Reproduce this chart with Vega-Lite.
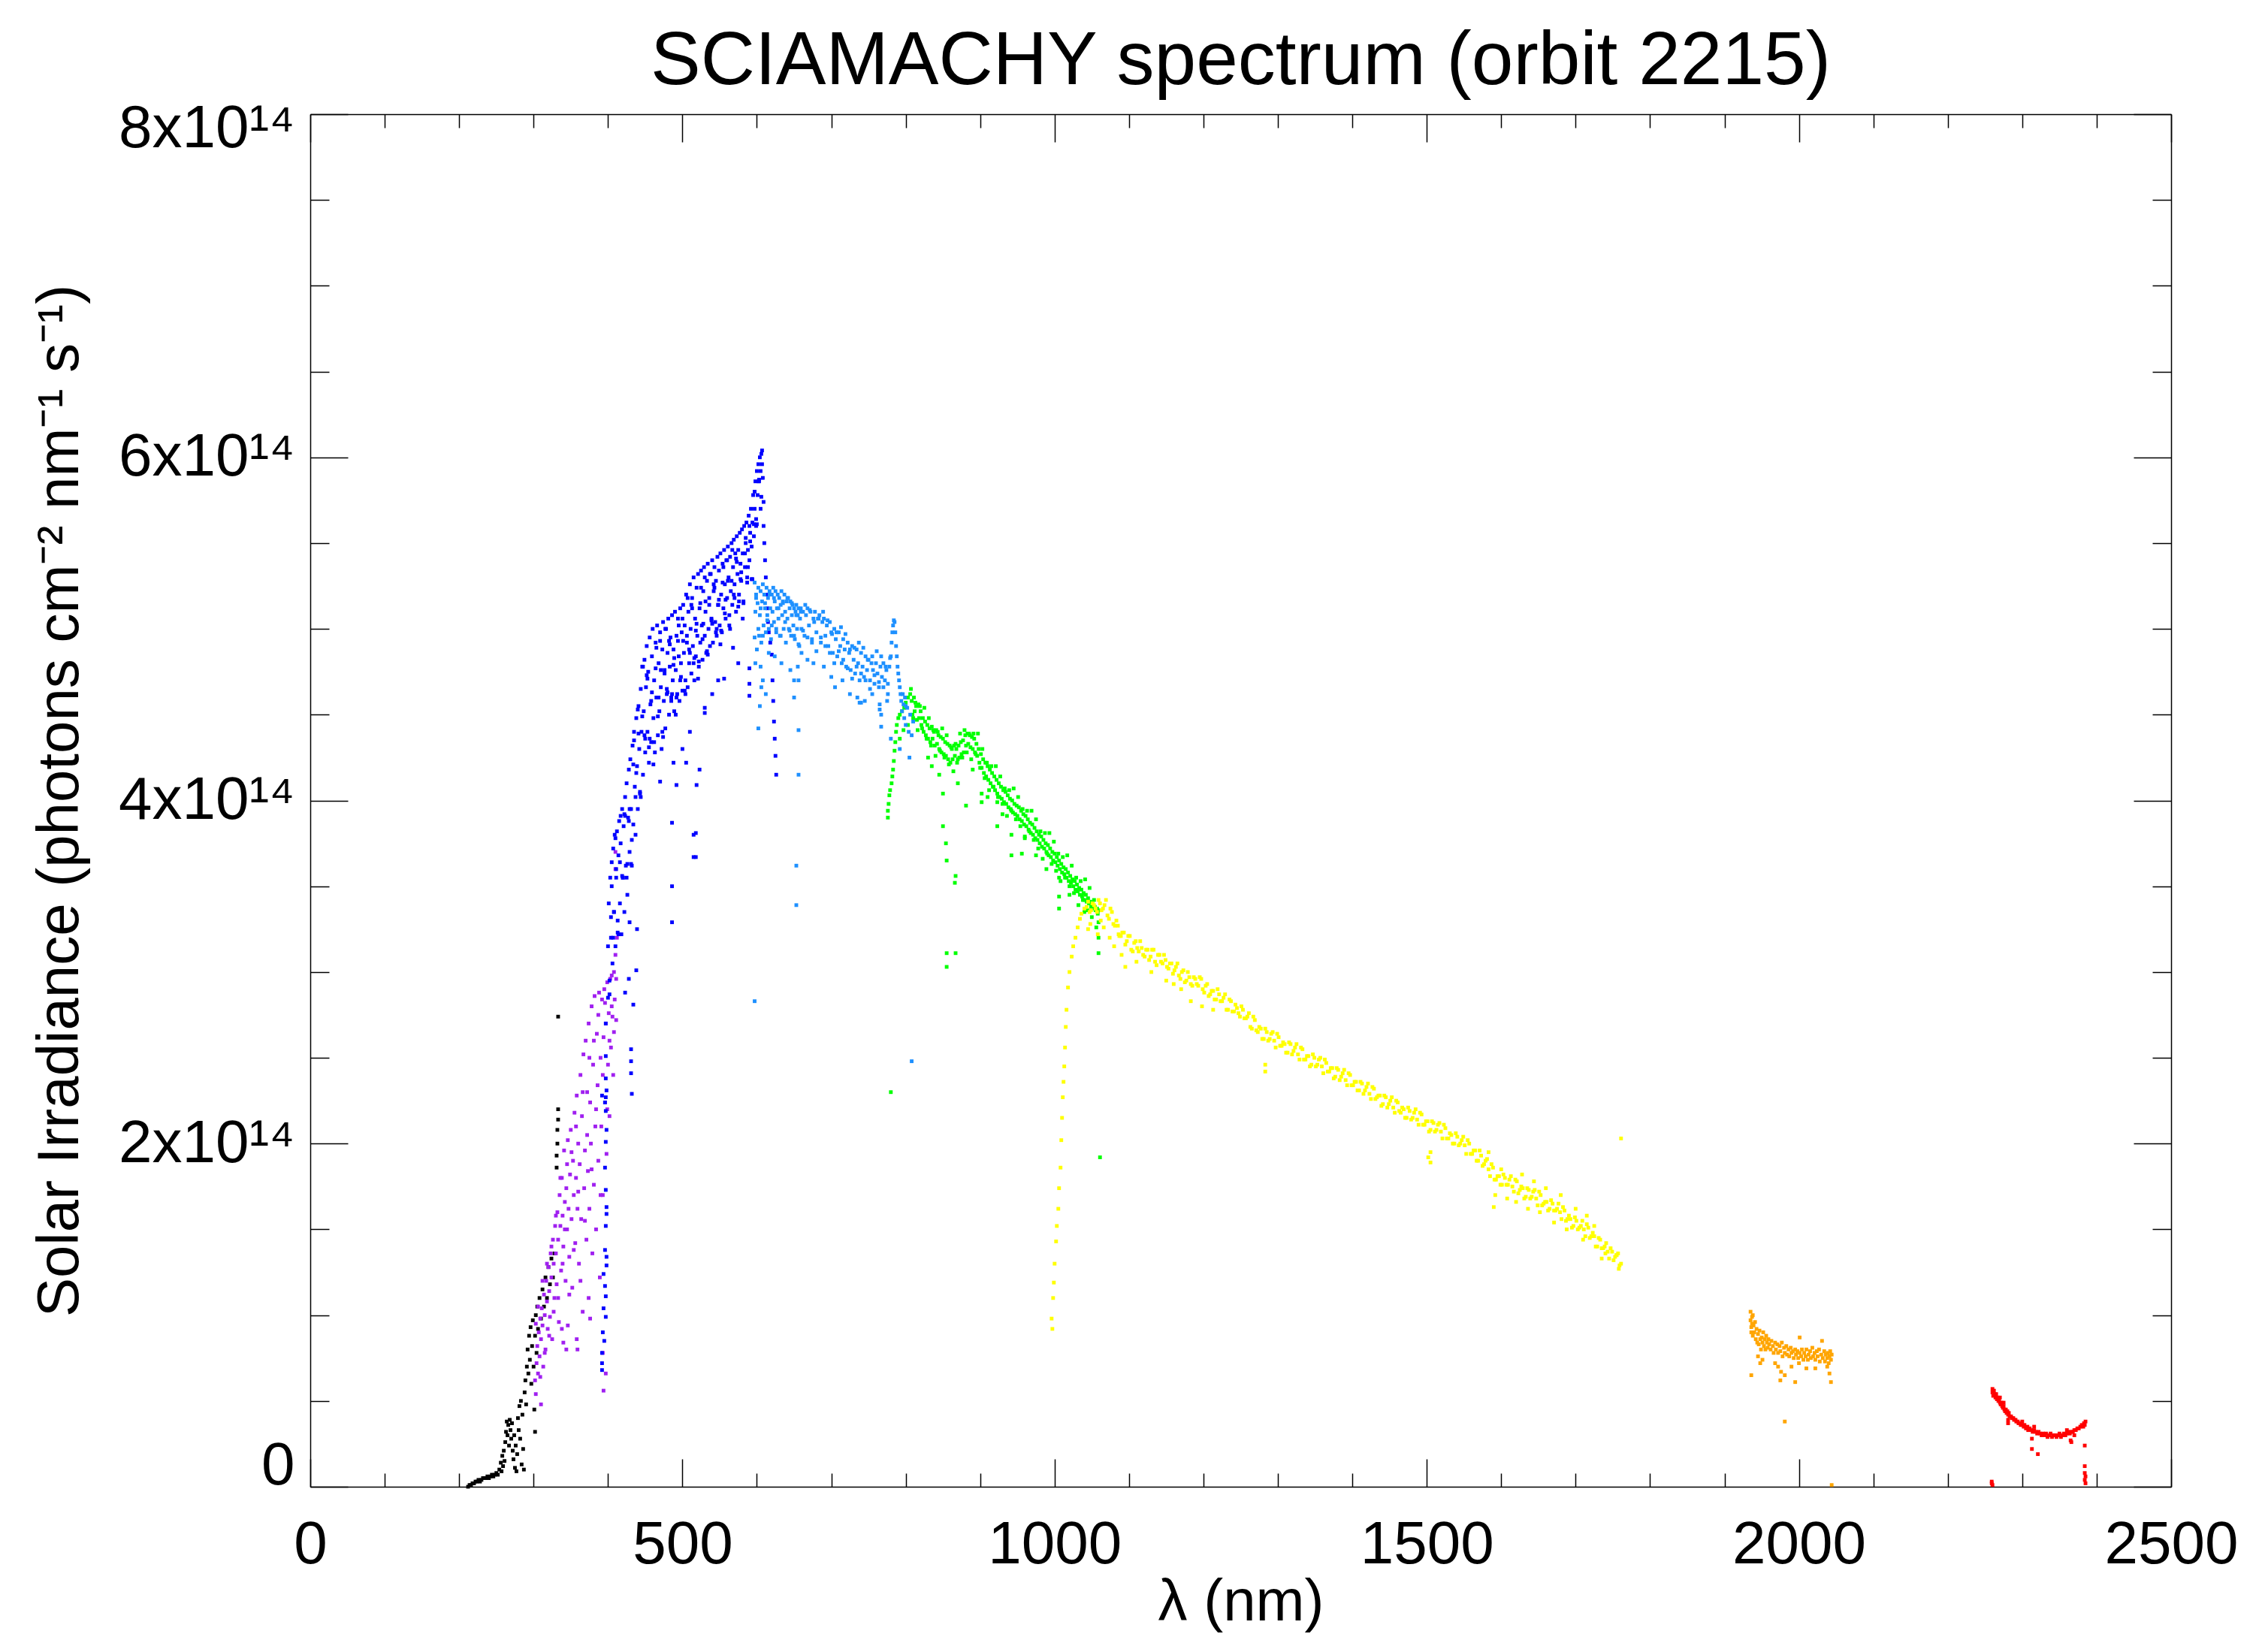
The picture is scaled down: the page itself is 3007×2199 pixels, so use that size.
{
"$schema": "https://vega.github.io/schema/vega-lite/v6.json",
"width": 2477, "height": 1827,
"autosize": {"type": "none"},
"padding": {"left": 413, "top": 152, "right": 117, "bottom": 220},
"background": "white",
"config": {"view": {"stroke": null}, "font": "Liberation Sans",
 "axis": {"labelFont": "Liberation Sans", "titleFont": "Liberation Sans", "labelColor": "black", "titleColor": "black", "domainColor": "black", "tickColor": "black", "domainWidth": 1.5, "tickWidth": 1.5, "grid": false, "titleFontWeight": "normal", "labelLimit": 600}},
"title": {"text": "SCIAMACHY spectrum (orbit 2215)", "fontSize": 100, "font": "Liberation Sans", "fontWeight": "normal", "color": "black", "anchor": "middle", "baseline": "alphabetic", "offset": -81},
"datasets": {"spec": [
{"w":212,"f":0,"c":"1"},{"w":214,"f":0.01e14,"c":"1"},{"w":216,"f":0.01e14,"c":"1"},{"w":218,"f":0.02e14,"c":"1"},{"w":220,"f":0.02e14,"c":"1"},{"w":222,"f":0.03e14,"c":"1"},{"w":224,"f":0.03e14,"c":"1"},{"w":226,"f":0.04e14,"c":"1"},{"w":228,"f":0.03e14,"c":"1"},{"w":230,"f":0.04e14,"c":"1"},{"w":232,"f":0.05e14,"c":"1"},{"w":234,"f":0.05e14,"c":"1"},{"w":236,"f":0.05e14,"c":"1"},{"w":238,"f":0.06e14,"c":"1"},{"w":240,"f":0.05e14,"c":"1"},{"w":242,"f":0.06e14,"c":"1"},{"w":244,"f":0.07e14,"c":"1"},{"w":246,"f":0.06e14,"c":"1"},{"w":248,"f":0.07e14,"c":"1"},{"w":250,"f":0.08e14,"c":"1"},{"w":252,"f":0.07e14,"c":"1"},{"w":254,"f":0.10e14,"c":"1"},{"w":256,"f":0.14e14,"c":"1"},{"w":257,"f":0.09e14,"c":"1"},{"w":258,"f":0.18e14,"c":"1"},{"w":259,"f":0.12e14,"c":"1"},{"w":260,"f":0.21e14,"c":"1"},{"w":261,"f":0.15e14,"c":"1"},{"w":262,"f":0.26e14,"c":"1"},{"w":263,"f":0.32e14,"c":"1"},{"w":264,"f":0.38e14,"c":"1"},{"w":265,"f":0.30e14,"c":"1"},{"w":266,"f":0.36e14,"c":"1"},{"w":267,"f":0.24e14,"c":"1"},{"w":268,"f":0.39e14,"c":"1"},{"w":269,"f":0.33e14,"c":"1"},{"w":270,"f":0.28e14,"c":"1"},{"w":271,"f":0.37e14,"c":"1"},{"w":272,"f":0.21e14,"c":"1"},{"w":273,"f":0.16e14,"c":"1"},{"w":274,"f":0.30e14,"c":"1"},{"w":275,"f":0.11e14,"c":"1"},{"w":276,"f":0.24e14,"c":"1"},{"w":277,"f":0.09e14,"c":"1"},{"w":278,"f":0.19e14,"c":"1"},{"w":279,"f":0.40e14,"c":"1"},{"w":280,"f":0.33e14,"c":"1"},{"w":281,"f":0.47e14,"c":"1"},{"w":282,"f":0.28e14,"c":"1"},{"w":283,"f":0.50e14,"c":"1"},{"w":284,"f":0.13e14,"c":"1"},{"w":285,"f":0.42e14,"c":"1"},{"w":286,"f":0.22e14,"c":"1"},{"w":287,"f":0.10e14,"c":"1"},{"w":288,"f":0.55e14,"c":"1"},{"w":289,"f":0.62e14,"c":"1"},{"w":290,"f":0.48e14,"c":"1"},{"w":291,"f":0.70e14,"c":"1"},{"w":292,"f":0.80e14,"c":"1"},{"w":293,"f":0.66e14,"c":"1"},{"w":294,"f":0.88e14,"c":"1"},{"w":295,"f":0.74e14,"c":"1"},{"w":296,"f":0.93e14,"c":"1"},{"w":297,"f":0.60e14,"c":"1"},{"w":298,"f":0.82e14,"c":"1"},{"w":299,"f":0.97e14,"c":"1"},{"w":300,"f":0.70e14,"c":"1"},{"w":301,"f":0.45e14,"c":"1"},{"w":302,"f":0.32e14,"c":"1"},{"w":302,"f":0.88e14,"c":"1"},{"w":303,"f":1.00e14,"c":"1"},{"w":304,"f":0.78e14,"c":"1"},{"w":305,"f":1.05e14,"c":"1"},{"w":306,"f":0.92e14,"c":"1"},{"w":308,"f":1.10e14,"c":"1"},{"w":310,"f":0.98e14,"c":"1"},{"w":312,"f":1.15e14,"c":"1"},{"w":314,"f":1.05e14,"c":"1"},{"w":316,"f":1.22e14,"c":"1"},{"w":318,"f":1.10e14,"c":"1"},{"w":320,"f":1.28e14,"c":"1"},{"w":322,"f":1.18e14,"c":"1"},{"w":324,"f":1.33e14,"c":"1"},{"w":326,"f":1.22e14,"c":"1"},{"w":328,"f":1.36e14,"c":"1"},{"w":331,"f":1.86e14,"c":"1"},{"w":331,"f":1.93e14,"c":"1"},{"w":332,"f":2.00e14,"c":"1"},{"w":332,"f":2.08e14,"c":"1"},{"w":333,"f":2.14e14,"c":"1"},{"w":333,"f":2.20e14,"c":"1"},{"w":333,"f":2.74e14,"c":"1"},
{"w":302,"f":0.62e14,"c":"2"},{"w":303,"f":0.54e14,"c":"2"},{"w":304,"f":0.72e14,"c":"2"},{"w":305,"f":0.82e14,"c":"2"},{"w":306,"f":0.66e14,"c":"2"},{"w":307,"f":0.90e14,"c":"2"},{"w":308,"f":0.76e14,"c":"2"},{"w":309,"f":0.98e14,"c":"2"},{"w":310,"f":0.48e14,"c":"2"},{"w":310,"f":0.86e14,"c":"2"},{"w":311,"f":1.04e14,"c":"2"},{"w":312,"f":0.94e14,"c":"2"},{"w":313,"f":0.70e14,"c":"2"},{"w":314,"f":1.12e14,"c":"2"},{"w":315,"f":1.00e14,"c":"2"},{"w":316,"f":0.80e14,"c":"2"},{"w":317,"f":1.20e14,"c":"2"},{"w":318,"f":1.08e14,"c":"2"},{"w":319,"f":0.92e14,"c":"2"},{"w":320,"f":1.28e14,"c":"2"},{"w":321,"f":1.14e14,"c":"2"},{"w":322,"f":0.99e14,"c":"2"},{"w":323,"f":1.36e14,"c":"2"},{"w":324,"f":1.22e14,"c":"2"},{"w":325,"f":0.86e14,"c":"2"},{"w":326,"f":1.44e14,"c":"2"},{"w":327,"f":1.30e14,"c":"2"},{"w":328,"f":1.10e14,"c":"2"},{"w":329,"f":1.52e14,"c":"2"},{"w":330,"f":1.36e14,"c":"2"},{"w":331,"f":1.18e14,"c":"2"},{"w":332,"f":1.60e14,"c":"2"},{"w":333,"f":1.44e14,"c":"2"},{"w":334,"f":0.96e14,"c":"2"},{"w":335,"f":1.70e14,"c":"2"},{"w":336,"f":1.52e14,"c":"2"},{"w":337,"f":1.26e14,"c":"2"},{"w":338,"f":1.80e14,"c":"2"},{"w":338,"f":0.92e14,"c":"2"},{"w":339,"f":1.58e14,"c":"2"},{"w":340,"f":0.84e14,"c":"2"},{"w":340,"f":1.40e14,"c":"2"},{"w":341,"f":1.96e14,"c":"2"},{"w":342,"f":1.66e14,"c":"2"},{"w":343,"f":1.20e14,"c":"2"},{"w":344,"f":1.74e14,"c":"2"},{"w":344,"f":0.80e14,"c":"2"},{"w":345,"f":1.50e14,"c":"2"},{"w":346,"f":0.94e14,"c":"2"},{"w":346,"f":2.02e14,"c":"2"},{"w":347,"f":1.62e14,"c":"2"},{"w":348,"f":1.34e14,"c":"2"},{"w":349,"f":1.82e14,"c":"2"},{"w":350,"f":2.08e14,"c":"2"},{"w":351,"f":1.56e14,"c":"2"},{"w":352,"f":1.16e14,"c":"2"},{"w":353,"f":1.90e14,"c":"2"},{"w":354,"f":1.70e14,"c":"2"},{"w":355,"f":2.18e14,"c":"2"},{"w":356,"f":1.42e14,"c":"2"},{"w":357,"f":1.80e14,"c":"2"},{"w":358,"f":0.86e14,"c":"2"},{"w":358,"f":2.28e14,"c":"2"},{"w":359,"f":1.62e14,"c":"2"},{"w":359,"f":0.80e14,"c":"2"},{"w":360,"f":2.00e14,"c":"2"},{"w":361,"f":1.30e14,"c":"2"},{"w":362,"f":1.88e14,"c":"2"},{"w":363,"f":2.40e14,"c":"2"},{"w":364,"f":1.56e14,"c":"2"},{"w":365,"f":2.16e14,"c":"2"},{"w":366,"f":1.02e14,"c":"2"},{"w":367,"f":2.52e14,"c":"2"},{"w":368,"f":1.74e14,"c":"2"},{"w":369,"f":1.96e14,"c":"2"},{"w":370,"f":2.60e14,"c":"2"},{"w":371,"f":1.44e14,"c":"2"},{"w":372,"f":2.30e14,"c":"2"},{"w":373,"f":1.84e14,"c":"2"},{"w":374,"f":1.10e14,"c":"2"},{"w":374,"f":2.70e14,"c":"2"},{"w":375,"f":1.62e14,"c":"2"},{"w":376,"f":2.24e14,"c":"2"},{"w":376,"f":0.98e14,"c":"2"},{"w":377,"f":2.00e14,"c":"2"},{"w":378,"f":2.80e14,"c":"2"},{"w":379,"f":1.36e14,"c":"2"},{"w":380,"f":2.46e14,"c":"2"},{"w":381,"f":1.76e14,"c":"2"},{"w":382,"f":2.86e14,"c":"2"},{"w":383,"f":2.10e14,"c":"2"},{"w":384,"f":1.50e14,"c":"2"},{"w":385,"f":2.64e14,"c":"2"},{"w":386,"f":2.34e14,"c":"2"},{"w":387,"f":1.90e14,"c":"2"},{"w":388,"f":2.88e14,"c":"2"},{"w":389,"f":1.22e14,"c":"2"},{"w":390,"f":2.50e14,"c":"2"},{"w":391,"f":2.10e14,"c":"2"},{"w":392,"f":2.84e14,"c":"2"},{"w":393,"f":0.78e14,"c":"2"},{"w":393,"f":1.70e14,"c":"2"},{"w":394,"f":2.62e14,"c":"2"},{"w":394,"f":0.56e14,"c":"2"},{"w":395,"f":2.90e14,"c":"2"},{"w":396,"f":2.24e14,"c":"2"},{"w":397,"f":0.66e14,"c":"2"},{"w":397,"f":2.70e14,"c":"2"},{"w":398,"f":1.94e14,"c":"2"},{"w":399,"f":2.94e14,"c":"2"},{"w":400,"f":2.46e14,"c":"2"},{"w":401,"f":2.76e14,"c":"2"},{"w":402,"f":2.16e14,"c":"2"},{"w":403,"f":2.96e14,"c":"2"},{"w":404,"f":2.56e14,"c":"2"},{"w":405,"f":2.98e14,"c":"2"},{"w":406,"f":2.74e14,"c":"2"},{"w":407,"f":2.40e14,"c":"2"},{"w":408,"f":3.00e14,"c":"2"},{"w":409,"f":2.84e14,"c":"2"},{"w":410,"f":3.10e14,"c":"2"},{"w":410,"f":3.60e14,"c":"2"},{"w":410,"f":3.70e14,"c":"2"},{"w":411,"f":2.96e14,"c":"2"},{"w":412,"f":3.20e14,"c":"2"},
{"w":303,"f":0.95e14,"c":"2"},{"w":306,"f":1.05e14,"c":"2"},{"w":309,"f":0.64e14,"c":"2"},{"w":312,"f":1.20e14,"c":"2"},{"w":315,"f":0.78e14,"c":"2"},{"w":318,"f":1.30e14,"c":"2"},{"w":321,"f":0.88e14,"c":"2"},{"w":324,"f":1.40e14,"c":"2"},{"w":327,"f":1.02e14,"c":"2"},{"w":330,"f":1.58e14,"c":"2"},{"w":333,"f":1.10e14,"c":"2"},{"w":336,"f":1.80e14,"c":"2"},{"w":339,"f":1.30e14,"c":"2"},{"w":342,"f":1.50e14,"c":"2"},{"w":345,"f":1.88e14,"c":"2"},{"w":348,"f":1.12e14,"c":"2"},{"w":351,"f":1.95e14,"c":"2"},{"w":354,"f":1.38e14,"c":"2"},{"w":357,"f":2.10e14,"c":"2"},{"w":360,"f":1.72e14,"c":"2"},{"w":363,"f":1.20e14,"c":"2"},{"w":366,"f":2.30e14,"c":"2"},{"w":369,"f":1.55e14,"c":"2"},{"w":372,"f":2.05e14,"c":"2"},{"w":375,"f":2.50e14,"c":"2"},{"w":378,"f":1.85e14,"c":"2"},{"w":381,"f":2.60e14,"c":"2"},{"w":384,"f":2.20e14,"c":"2"},{"w":387,"f":2.75e14,"c":"2"},{"w":390,"f":1.70e14,"c":"2"},{"w":393,"f":2.40e14,"c":"2"},{"w":396,"f":2.82e14,"c":"2"},{"w":399,"f":2.20e14,"c":"2"},{"w":402,"f":2.60e14,"c":"2"},{"w":405,"f":2.80e14,"c":"2"},{"w":408,"f":2.65e14,"c":"2"},{"w":411,"f":2.72e14,"c":"2"},
{"w":397,"f":2.51e14,"c":"3"},{"w":397,"f":2.38e14,"c":"3"},{"w":398,"f":2.31e14,"c":"3"},{"w":397,"f":2.27e14,"c":"3"},{"w":396,"f":2.24e14,"c":"3"},{"w":397,"f":2.19e14,"c":"3"},{"w":398,"f":2.08e14,"c":"3"},{"w":397,"f":2.01e14,"c":"3"},{"w":396,"f":1.86e14,"c":"3"},{"w":397,"f":1.73e14,"c":"3"},{"w":398,"f":1.63e14,"c":"3"},{"w":398,"f":1.59e14,"c":"3"},{"w":397,"f":1.52e14,"c":"3"},{"w":396,"f":1.38e14,"c":"3"},{"w":398,"f":1.34e14,"c":"3"},{"w":398,"f":1.29e14,"c":"3"},{"w":394,"f":1.24e14,"c":"3"},{"w":396,"f":1.17e14,"c":"3"},{"w":397,"f":1.11e14,"c":"3"},{"w":394,"f":1.04e14,"c":"3"},{"w":397,"f":0.99e14,"c":"3"},{"w":393,"f":0.90e14,"c":"3"},{"w":395,"f":0.85e14,"c":"3"},{"w":392,"f":0.78e14,"c":"3"},{"w":392,"f":0.72e14,"c":"3"},{"w":392,"f":0.68e14,"c":"3"},{"w":392,"f":2.28e14,"c":"3"},{"w":397,"f":2.70e14,"c":"3"},
{"w":431,"f":2.55e14,"c":"3"},{"w":431,"f":2.48e14,"c":"3"},{"w":431,"f":2.41e14,"c":"3"},{"w":432,"f":2.29e14,"c":"3"},{"w":434,"f":2.81e14,"c":"3"},{"w":429,"f":3.29e14,"c":"3"},{"w":439,"f":3.25e14,"c":"3"},{"w":438,"f":3.01e14,"c":"3"},{"w":423,"f":2.88e14,"c":"3"},{"w":428,"f":2.96e14,"c":"3"},{"w":486,"f":3.87e14,"c":"3"},{"w":486,"f":3.50e14,"c":"3"},{"w":486,"f":3.29e14,"c":"3"},{"w":515,"f":3.80e14,"c":"3"},{"w":515,"f":3.67e14,"c":"3"},{"w":518,"f":3.81e14,"c":"3"},{"w":518,"f":3.67e14,"c":"3"},{"w":492,"f":4.09e14,"c":"3"},{"w":488,"f":4.22e14,"c":"3"},{"w":470,"f":4.11e14,"c":"3"},{"w":523,"f":4.18e14,"c":"3"},{"w":519,"f":4.09e14,"c":"3"},{"w":530,"f":4.54e14,"c":"3"},{"w":530,"f":4.51e14,"c":"3"},{"w":556,"f":4.71e14,"c":"3"},{"w":568,"f":4.89e14,"c":"3"},{"w":590,"f":4.77e14,"c":"3"},{"w":590,"f":4.68e14,"c":"3"},{"w":590,"f":4.61e14,"c":"3"},{"w":500,"f":4.30e14,"c":"3"},{"w":505,"f":4.22e14,"c":"3"},{"w":510,"f":4.40e14,"c":"3"},{"w":540,"f":4.62e14,"c":"3"},{"w":548,"f":4.70e14,"c":"3"},{"w":575,"f":4.80e14,"c":"3"},
{"w":400,"f":2.85e14,"c":"3"},{"w":400,"f":3.15e14,"c":"3"},{"w":401,"f":3.40e14,"c":"3"},{"w":402,"f":2.95e14,"c":"3"},{"w":403,"f":3.55e14,"c":"3"},{"w":404,"f":3.20e14,"c":"3"},{"w":405,"f":3.64e14,"c":"3"},{"w":406,"f":3.05e14,"c":"3"},{"w":407,"f":3.72e14,"c":"3"},{"w":408,"f":3.35e14,"c":"3"},{"w":409,"f":3.80e14,"c":"3"},{"w":410,"f":3.15e14,"c":"3"},{"w":411,"f":3.55e14,"c":"3"},{"w":412,"f":3.82e14,"c":"3"},{"w":413,"f":3.30e14,"c":"3"},{"w":414,"f":3.68e14,"c":"3"},{"w":415,"f":3.88e14,"c":"3"},{"w":416,"f":3.40e14,"c":"3"},{"w":417,"f":3.75e14,"c":"3"},{"w":418,"f":3.22e14,"c":"3"},{"w":419,"f":3.95e14,"c":"3"},{"w":420,"f":3.55e14,"c":"3"},{"w":421,"f":3.85e14,"c":"3"},{"w":422,"f":3.35e14,"c":"3"},{"w":423,"f":4.02e14,"c":"3"},{"w":424,"f":3.62e14,"c":"3"},{"w":425,"f":4.10e14,"c":"3"},{"w":426,"f":3.45e14,"c":"3"},{"w":427,"f":3.90e14,"c":"3"},{"w":428,"f":4.18e14,"c":"3"},{"w":429,"f":3.70e14,"c":"3"},{"w":430,"f":4.24e14,"c":"3"},{"w":431,"f":3.95e14,"c":"3"},{"w":432,"f":3.62e14,"c":"3"},{"w":433,"f":4.32e14,"c":"3"},{"w":434,"f":3.86e14,"c":"3"},{"w":435,"f":4.40e14,"c":"3"},{"w":436,"f":4.08e14,"c":"3"},{"w":437,"f":3.80e14,"c":"3"},{"w":438,"f":4.48e14,"c":"3"},{"w":439,"f":4.20e14,"c":"3"},{"w":440,"f":3.95e14,"c":"3"},{"w":441,"f":4.55e14,"c":"3"},{"w":442,"f":4.30e14,"c":"3"},{"w":443,"f":4.05e14,"c":"3"},{"w":444,"f":4.65e14,"c":"3"},{"w":445,"f":4.40e14,"c":"3"},{"w":446,"f":4.78e14,"c":"3"},{"w":447,"f":4.15e14,"c":"3"},{"w":448,"f":4.52e14,"c":"3"},{"w":449,"f":4.82e14,"c":"3"},{"w":450,"f":4.28e14,"c":"3"},{"w":451,"f":4.66e14,"c":"3"},{"w":452,"f":4.90e14,"c":"3"},{"w":453,"f":4.40e14,"c":"3"},{"w":454,"f":4.75e14,"c":"3"},{"w":455,"f":4.22e14,"c":"3"},{"w":456,"f":4.95e14,"c":"3"},{"w":457,"f":4.56e14,"c":"3"},{"w":458,"f":4.34e14,"c":"3"},{"w":459,"f":4.84e14,"c":"3"},{"w":460,"f":5.00e14,"c":"3"},{"w":461,"f":4.48e14,"c":"3"},{"w":462,"f":4.70e14,"c":"3"},{"w":463,"f":4.28e14,"c":"3"},{"w":464,"f":4.92e14,"c":"3"},{"w":465,"f":4.60e14,"c":"3"},{"w":466,"f":5.02e14,"c":"3"},{"w":467,"f":4.38e14,"c":"3"},{"w":468,"f":4.80e14,"c":"3"},{"w":469,"f":4.52e14,"c":"3"},{"w":470,"f":4.98e14,"c":"3"},{"w":471,"f":4.66e14,"c":"3"},{"w":472,"f":4.30e14,"c":"3"},{"w":473,"f":4.88e14,"c":"3"},{"w":474,"f":5.04e14,"c":"3"},{"w":475,"f":4.58e14,"c":"3"},{"w":476,"f":4.74e14,"c":"3"},{"w":477,"f":4.42e14,"c":"3"},{"w":478,"f":5.00e14,"c":"3"},{"w":479,"f":4.62e14,"c":"3"},{"w":480,"f":4.86e14,"c":"3"},{"w":481,"f":5.06e14,"c":"3"},{"w":482,"f":4.50e14,"c":"3"},{"w":483,"f":4.78e14,"c":"3"},{"w":484,"f":4.95e14,"c":"3"},{"w":485,"f":4.60e14,"c":"3"},{"w":486,"f":5.08e14,"c":"3"},{"w":487,"f":4.70e14,"c":"3"},{"w":488,"f":4.88e14,"c":"3"},{"w":489,"f":4.52e14,"c":"3"},{"w":490,"f":5.10e14,"c":"3"},{"w":491,"f":4.76e14,"c":"3"},{"w":492,"f":4.96e14,"c":"3"},{"w":493,"f":4.62e14,"c":"3"},{"w":494,"f":5.06e14,"c":"3"},{"w":495,"f":4.84e14,"c":"3"},{"w":496,"f":4.58e14,"c":"3"},{"w":497,"f":5.12e14,"c":"3"},{"w":498,"f":4.72e14,"c":"3"},{"w":499,"f":4.98e14,"c":"3"},{"w":500,"f":4.64e14,"c":"3"},{"w":501,"f":5.14e14,"c":"3"},{"w":502,"f":4.86e14,"c":"3"},{"w":503,"f":5.02e14,"c":"3"},{"w":504,"f":4.70e14,"c":"3"},{"w":505,"f":5.20e14,"c":"3"},{"w":506,"f":4.92e14,"c":"3"},{"w":507,"f":4.66e14,"c":"3"},{"w":508,"f":5.10e14,"c":"3"},{"w":509,"f":4.80e14,"c":"3"},{"w":510,"f":5.26e14,"c":"3"},{"w":511,"f":5.00e14,"c":"3"},{"w":512,"f":4.74e14,"c":"3"},{"w":513,"f":5.18e14,"c":"3"},{"w":514,"f":4.90e14,"c":"3"},{"w":515,"f":5.30e14,"c":"3"},{"w":516,"f":4.70e14,"c":"3"},{"w":517,"f":5.06e14,"c":"3"},{"w":518,"f":4.84e14,"c":"3"},{"w":519,"f":5.24e14,"c":"3"},{"w":520,"f":4.96e14,"c":"3"},{"w":521,"f":5.32e14,"c":"3"},{"w":522,"f":4.78e14,"c":"3"},{"w":523,"f":5.12e14,"c":"3"},{"w":524,"f":4.92e14,"c":"3"},{"w":525,"f":5.34e14,"c":"3"},{"w":526,"f":5.02e14,"c":"3"},{"w":527,"f":4.82e14,"c":"3"},{"w":528,"f":5.22e14,"c":"3"},{"w":529,"f":5.36e14,"c":"3"},{"w":530,"f":4.96e14,"c":"3"},{"w":531,"f":5.10e14,"c":"3"},{"w":532,"f":4.86e14,"c":"3"},{"w":533,"f":5.28e14,"c":"3"},{"w":534,"f":5.38e14,"c":"3"},{"w":535,"f":5.00e14,"c":"3"},{"w":536,"f":5.18e14,"c":"3"},{"w":537,"f":4.90e14,"c":"3"},{"w":538,"f":5.32e14,"c":"3"},{"w":539,"f":5.06e14,"c":"3"},{"w":540,"f":5.40e14,"c":"3"},{"w":541,"f":4.92e14,"c":"3"},{"w":542,"f":5.22e14,"c":"3"},{"w":543,"f":5.36e14,"c":"3"},{"w":544,"f":5.04e14,"c":"3"},{"w":545,"f":5.28e14,"c":"3"},{"w":546,"f":4.96e14,"c":"3"},{"w":547,"f":5.42e14,"c":"3"},{"w":548,"f":5.14e14,"c":"3"},{"w":549,"f":5.34e14,"c":"3"},{"w":550,"f":5.02e14,"c":"3"},{"w":551,"f":5.44e14,"c":"3"},{"w":552,"f":5.20e14,"c":"3"},{"w":553,"f":4.98e14,"c":"3"},{"w":554,"f":5.38e14,"c":"3"},{"w":555,"f":5.12e14,"c":"3"},{"w":556,"f":5.46e14,"c":"3"},{"w":557,"f":5.26e14,"c":"3"},{"w":558,"f":5.06e14,"c":"3"},{"w":559,"f":5.40e14,"c":"3"},{"w":560,"f":5.18e14,"c":"3"},{"w":561,"f":5.48e14,"c":"3"},{"w":562,"f":5.30e14,"c":"3"},{"w":563,"f":5.08e14,"c":"3"},{"w":564,"f":5.42e14,"c":"3"},{"w":565,"f":5.22e14,"c":"3"},{"w":566,"f":5.50e14,"c":"3"},{"w":567,"f":5.14e14,"c":"3"},{"w":568,"f":5.36e14,"c":"3"},{"w":569,"f":5.52e14,"c":"3"},{"w":570,"f":5.26e14,"c":"3"},{"w":571,"f":5.44e14,"c":"3"},{"w":572,"f":5.10e14,"c":"3"},{"w":573,"f":5.54e14,"c":"3"},{"w":574,"f":5.32e14,"c":"3"},{"w":575,"f":5.46e14,"c":"3"},{"w":576,"f":5.20e14,"c":"3"},{"w":577,"f":5.56e14,"c":"3"},{"w":578,"f":5.38e14,"c":"3"},{"w":579,"f":5.28e14,"c":"3"},{"w":580,"f":5.58e14,"c":"3"},{"w":581,"f":5.44e14,"c":"3"},{"w":582,"f":5.16e14,"c":"3"},{"w":583,"f":5.60e14,"c":"3"},{"w":584,"f":5.36e14,"c":"3"},{"w":585,"f":5.50e14,"c":"3"},{"w":586,"f":5.62e14,"c":"3"},{"w":587,"f":5.30e14,"c":"3"},{"w":588,"f":5.46e14,"c":"3"},{"w":589,"f":5.66e14,"c":"3"},{"w":590,"f":5.40e14,"c":"3"},{"w":591,"f":5.56e14,"c":"3"},{"w":592,"f":5.70e14,"c":"3"},{"w":593,"f":5.48e14,"c":"3"},{"w":594,"f":5.62e14,"c":"3"},{"w":595,"f":5.78e14,"c":"3"},{"w":596,"f":5.54e14,"c":"3"},{"w":597,"f":5.70e14,"c":"3"},{"w":598,"f":5.86e14,"c":"3"},{"w":599,"f":5.64e14,"c":"3"},{"w":600,"f":5.92e14,"c":"3"},{"w":601,"f":5.78e14,"c":"3"},{"w":602,"f":5.96e14,"c":"3"},{"w":603,"f":5.86e14,"c":"3"},{"w":604,"f":6.00e14,"c":"3"},{"w":605,"f":5.92e14,"c":"3"},{"w":606,"f":6.02e14,"c":"3"},{"w":607,"f":6.04e14,"c":"3"},{"w":607,"f":5.96e14,"c":"3"},{"w":608,"f":5.88e14,"c":"3"},{"w":609,"f":5.74e14,"c":"3"},{"w":609,"f":5.60e14,"c":"3"},{"w":610,"f":5.50e14,"c":"3"},{"w":611,"f":5.40e14,"c":"3"},{"w":612,"f":5.30e14,"c":"3"},{"w":613,"f":5.20e14,"c":"3"},{"w":614,"f":5.12e14,"c":"3"},{"w":615,"f":5.04e14,"c":"3"},{"w":616,"f":4.98e14,"c":"3"},{"w":618,"f":4.92e14,"c":"3"},{"w":620,"f":4.85e14,"c":"3"},{"w":621,"f":4.70e14,"c":"3"},{"w":622,"f":4.58e14,"c":"3"},{"w":623,"f":4.46e14,"c":"3"},{"w":624,"f":4.36e14,"c":"3"},{"w":625,"f":4.26e14,"c":"3"},{"w":626,"f":4.15e14,"c":"3"},
{"w":402,"f":2.87e14,"c":"3"},{"w":405,"f":3.50e14,"c":"3"},{"w":408,"f":3.35e14,"c":"3"},{"w":411,"f":3.60e14,"c":"3"},{"w":414,"f":3.22e14,"c":"3"},{"w":417,"f":3.91e14,"c":"3"},{"w":420,"f":3.55e14,"c":"3"},{"w":423,"f":3.91e14,"c":"3"},{"w":426,"f":3.63e14,"c":"3"},{"w":429,"f":3.95e14,"c":"3"},{"w":432,"f":3.77e14,"c":"3"},{"w":435,"f":4.35e14,"c":"3"},{"w":438,"f":4.16e14,"c":"3"},{"w":441,"f":4.39e14,"c":"3"},{"w":444,"f":4.02e14,"c":"3"},{"w":447,"f":4.78e14,"c":"3"},{"w":450,"f":4.36e14,"c":"3"},{"w":453,"f":4.71e14,"c":"3"},{"w":456,"f":4.36e14,"c":"3"},{"w":459,"f":4.63e14,"c":"3"},{"w":462,"f":4.34e14,"c":"3"},{"w":465,"f":4.89e14,"c":"3"},{"w":468,"f":4.60e14,"c":"3"},{"w":471,"f":4.76e14,"c":"3"},{"w":474,"f":4.37e14,"c":"3"},{"w":477,"f":5.00e14,"c":"3"},{"w":480,"f":4.63e14,"c":"3"},{"w":483,"f":4.91e14,"c":"3"},{"w":486,"f":4.62e14,"c":"3"},{"w":489,"f":4.83e14,"c":"3"},{"w":492,"f":4.60e14,"c":"3"},{"w":495,"f":5.02e14,"c":"3"},{"w":498,"f":4.80e14,"c":"3"},{"w":501,"f":4.93e14,"c":"3"},{"w":504,"f":4.62e14,"c":"3"},{"w":507,"f":5.18e14,"c":"3"},{"w":510,"f":4.86e14,"c":"3"},{"w":513,"f":5.12e14,"c":"3"},{"w":516,"f":4.83e14,"c":"3"},{"w":519,"f":5.03e14,"c":"3"},{"w":522,"f":4.81e14,"c":"3"},{"w":525,"f":5.24e14,"c":"3"},{"w":528,"f":5.03e14,"c":"3"},{"w":531,"f":5.16e14,"c":"3"},{"w":534,"f":4.85e14,"c":"3"},{"w":537,"f":5.32e14,"c":"3"},{"w":540,"f":5.03e14,"c":"3"},{"w":543,"f":5.24e14,"c":"3"},{"w":546,"f":5.00e14,"c":"3"},{"w":549,"f":5.17e14,"c":"3"},{"w":552,"f":4.99e14,"c":"3"},{"w":555,"f":5.36e14,"c":"3"},{"w":558,"f":5.17e14,"c":"3"},{"w":561,"f":5.28e14,"c":"3"},{"w":564,"f":5.00e14,"c":"3"},{"w":567,"f":5.46e14,"c":"3"},{"w":570,"f":5.18e14,"c":"3"},{"w":573,"f":5.39e14,"c":"3"},{"w":576,"f":5.16e14,"c":"3"},{"w":579,"f":5.33e14,"c":"3"},{"w":582,"f":5.15e14,"c":"3"},{"w":585,"f":5.53e14,"c":"3"},{"w":588,"f":5.36e14,"c":"3"},{"w":591,"f":5.51e14,"c":"3"},{"w":594,"f":5.29e14,"c":"3"},{"w":597,"f":5.80e14,"c":"3"},{"w":600,"f":5.61e14,"c":"3"},{"w":603,"f":5.87e14,"c":"3"},{"w":606,"f":5.77e14,"c":"3"},
{"w":404,"f":3.32e14,"c":"3"},{"w":407,"f":3.20e14,"c":"3"},{"w":410,"f":3.78e14,"c":"3"},{"w":413,"f":3.23e14,"c":"3"},{"w":416,"f":3.64e14,"c":"3"},{"w":419,"f":3.56e14,"c":"3"},{"w":422,"f":3.92e14,"c":"3"},{"w":425,"f":3.55e14,"c":"3"},{"w":428,"f":3.88e14,"c":"3"},{"w":431,"f":3.63e14,"c":"3"},{"w":434,"f":4.21e14,"c":"3"},{"w":437,"f":4.02e14,"c":"3"},{"w":440,"f":4.53e14,"c":"3"},{"w":443,"f":4.04e14,"c":"3"},{"w":446,"f":4.49e14,"c":"3"},{"w":449,"f":4.38e14,"c":"3"},{"w":452,"f":4.73e14,"c":"3"},{"w":455,"f":4.31e14,"c":"3"},{"w":458,"f":4.58e14,"c":"3"},{"w":461,"f":4.21e14,"c":"3"},{"w":464,"f":4.77e14,"c":"3"},{"w":467,"f":4.49e14,"c":"3"},{"w":470,"f":4.93e14,"c":"3"},{"w":473,"f":4.40e14,"c":"3"},{"w":476,"f":4.76e14,"c":"3"},{"w":479,"f":4.65e14,"c":"3"},{"w":482,"f":4.93e14,"c":"3"},{"w":485,"f":4.58e14,"c":"3"},{"w":488,"f":4.79e14,"c":"3"},{"w":491,"f":4.50e14,"c":"3"},{"w":494,"f":4.93e14,"c":"3"},{"w":497,"f":4.70e14,"c":"3"},{"w":500,"f":5.06e14,"c":"3"},{"w":503,"f":4.64e14,"c":"3"},{"w":506,"f":4.96e14,"c":"3"},{"w":509,"f":4.88e14,"c":"3"},{"w":512,"f":5.14e14,"c":"3"},{"w":515,"f":4.80e14,"c":"3"},{"w":518,"f":4.99e14,"c":"3"},{"w":521,"f":4.71e14,"c":"3"},{"w":524,"f":5.15e14,"c":"3"},{"w":527,"f":4.94e14,"c":"3"},{"w":530,"f":5.30e14,"c":"3"},{"w":533,"f":4.87e14,"c":"3"},{"w":536,"f":5.14e14,"c":"3"},{"w":539,"f":5.05e14,"c":"3"},{"w":542,"f":5.26e14,"c":"3"},{"w":545,"f":4.98e14,"c":"3"},{"w":548,"f":5.14e14,"c":"3"},{"w":551,"f":4.91e14,"c":"3"},{"w":554,"f":5.27e14,"c":"3"},{"w":557,"f":5.09e14,"c":"3"},{"w":560,"f":5.40e14,"c":"3"},{"w":563,"f":5.02e14,"c":"3"},{"w":566,"f":5.28e14,"c":"3"},{"w":569,"f":5.20e14,"c":"3"},{"w":572,"f":5.41e14,"c":"3"},{"w":575,"f":5.13e14,"c":"3"},{"w":578,"f":5.29e14,"c":"3"},{"w":581,"f":5.06e14,"c":"3"},{"w":584,"f":5.44e14,"c":"3"},{"w":587,"f":5.27e14,"c":"3"},{"w":590,"f":5.60e14,"c":"3"},{"w":593,"f":5.29e14,"c":"3"},{"w":596,"f":5.61e14,"c":"3"},{"w":599,"f":5.60e14,"c":"3"},{"w":602,"f":5.86e14,"c":"3"},{"w":605,"f":5.70e14,"c":"3"},
{"w":776,"f":3.90e14,"c":"5"},{"w":776,"f":3.94e14,"c":"5"},{"w":777,"f":3.98e14,"c":"5"},{"w":778,"f":4.03e14,"c":"5"},{"w":779,"f":4.06e14,"c":"5"},{"w":781,"f":4.10e14,"c":"5"},{"w":782,"f":4.14e14,"c":"5"},{"w":783,"f":4.18e14,"c":"5"},{"w":784,"f":4.23e14,"c":"5"},{"w":785,"f":4.29e14,"c":"5"},{"w":786,"f":4.34e14,"c":"5"},{"w":787,"f":4.40e14,"c":"5"},{"w":788,"f":4.44e14,"c":"5"},{"w":790,"f":4.48e14,"c":"5"},{"w":792,"f":4.50e14,"c":"5"},{"w":792,"f":4.36e14,"c":"5"},{"w":795,"f":4.52e14,"c":"5"},{"w":797,"f":4.41e14,"c":"5"},{"w":798,"f":4.54e14,"c":"5"},{"w":800,"f":4.57e14,"c":"5"},{"w":803,"f":4.60e14,"c":"5"},{"w":803,"f":4.44e14,"c":"5"},{"w":806,"f":4.62e14,"c":"5"},
{"w":808,"f":4.58e14,"c":"5"},{"w":809,"f":4.50e14,"c":"5"},{"w":811,"f":4.60e14,"c":"5"},{"w":812,"f":4.52e14,"c":"5"},{"w":814,"f":4.55e14,"c":"5"},{"w":815,"f":4.47e14,"c":"5"},{"w":817,"f":4.56e14,"c":"5"},{"w":818,"f":4.48e14,"c":"5"},{"w":820,"f":4.52e14,"c":"5"},{"w":821,"f":4.44e14,"c":"5"},{"w":823,"f":4.48e14,"c":"5"},{"w":824,"f":4.40e14,"c":"5"},{"w":826,"f":4.46e14,"c":"5"},{"w":827,"f":4.38e14,"c":"5"},{"w":829,"f":4.44e14,"c":"5"},{"w":830,"f":4.36e14,"c":"5"},{"w":832,"f":4.42e14,"c":"5"},{"w":833,"f":4.34e14,"c":"5"},{"w":835,"f":4.43e14,"c":"5"},{"w":836,"f":4.36e14,"c":"5"},{"w":838,"f":4.40e14,"c":"5"},{"w":839,"f":4.32e14,"c":"5"},{"w":841,"f":4.41e14,"c":"5"},{"w":842,"f":4.33e14,"c":"5"},{"w":844,"f":4.38e14,"c":"5"},{"w":845,"f":4.30e14,"c":"5"},{"w":847,"f":4.37e14,"c":"5"},{"w":848,"f":4.28e14,"c":"5"},{"w":850,"f":4.36e14,"c":"5"},{"w":851,"f":4.27e14,"c":"5"},{"w":853,"f":4.34e14,"c":"5"},{"w":854,"f":4.26e14,"c":"5"},{"w":856,"f":4.33e14,"c":"5"},{"w":857,"f":4.24e14,"c":"5"},{"w":859,"f":4.32e14,"c":"5"},{"w":860,"f":4.22e14,"c":"5"},{"w":862,"f":4.30e14,"c":"5"},{"w":863,"f":4.24e14,"c":"5"},{"w":865,"f":4.32e14,"c":"5"},{"w":866,"f":4.26e14,"c":"5"},{"w":868,"f":4.30e14,"c":"5"},{"w":869,"f":4.22e14,"c":"5"},{"w":871,"f":4.32e14,"c":"5"},{"w":872,"f":4.25e14,"c":"5"},{"w":874,"f":4.34e14,"c":"5"},{"w":875,"f":4.27e14,"c":"5"},{"w":877,"f":4.35e14,"c":"5"},{"w":878,"f":4.28e14,"c":"5"},{"w":880,"f":4.38e14,"c":"5"},{"w":881,"f":4.32e14,"c":"5"},{"w":883,"f":4.39e14,"c":"5"},{"w":884,"f":4.33e14,"c":"5"},{"w":886,"f":4.38e14,"c":"5"},{"w":887,"f":4.31e14,"c":"5"},{"w":889,"f":4.37e14,"c":"5"},{"w":890,"f":4.30e14,"c":"5"},{"w":892,"f":4.36e14,"c":"5"},{"w":893,"f":4.28e14,"c":"5"},{"w":895,"f":4.33e14,"c":"5"},{"w":896,"f":4.26e14,"c":"5"},{"w":898,"f":4.30e14,"c":"5"},{"w":899,"f":4.22e14,"c":"5"},{"w":901,"f":4.27e14,"c":"5"},{"w":902,"f":4.19e14,"c":"5"},{"w":904,"f":4.24e14,"c":"5"},{"w":905,"f":4.16e14,"c":"5"},{"w":907,"f":4.22e14,"c":"5"},{"w":908,"f":4.14e14,"c":"5"},{"w":910,"f":4.20e14,"c":"5"},{"w":911,"f":4.12e14,"c":"5"},{"w":913,"f":4.18e14,"c":"5"},{"w":914,"f":4.10e14,"c":"5"},{"w":916,"f":4.16e14,"c":"5"},{"w":917,"f":4.08e14,"c":"5"},{"w":919,"f":4.14e14,"c":"5"},{"w":920,"f":4.06e14,"c":"5"},{"w":922,"f":4.12e14,"c":"5"},{"w":923,"f":4.04e14,"c":"5"},{"w":925,"f":4.10e14,"c":"5"},{"w":926,"f":4.02e14,"c":"5"},{"w":928,"f":4.08e14,"c":"5"},{"w":929,"f":4.01e14,"c":"5"},{"w":931,"f":4.06e14,"c":"5"},{"w":932,"f":3.99e14,"c":"5"},{"w":934,"f":4.05e14,"c":"5"},{"w":935,"f":3.98e14,"c":"5"},{"w":937,"f":4.03e14,"c":"5"},{"w":938,"f":3.96e14,"c":"5"},{"w":940,"f":4.01e14,"c":"5"},{"w":941,"f":3.95e14,"c":"5"},{"w":943,"f":4.00e14,"c":"5"},{"w":944,"f":3.93e14,"c":"5"},{"w":946,"f":3.98e14,"c":"5"},{"w":947,"f":3.92e14,"c":"5"},{"w":949,"f":3.97e14,"c":"5"},{"w":950,"f":3.91e14,"c":"5"},{"w":952,"f":3.96e14,"c":"5"},{"w":953,"f":3.89e14,"c":"5"},{"w":955,"f":3.94e14,"c":"5"},{"w":956,"f":3.88e14,"c":"5"},{"w":958,"f":3.92e14,"c":"5"},{"w":959,"f":3.86e14,"c":"5"},{"w":961,"f":3.91e14,"c":"5"},{"w":962,"f":3.85e14,"c":"5"},{"w":964,"f":3.89e14,"c":"5"},{"w":965,"f":3.83e14,"c":"5"},{"w":967,"f":3.87e14,"c":"5"},{"w":968,"f":3.81e14,"c":"5"},{"w":970,"f":3.86e14,"c":"5"},{"w":971,"f":3.80e14,"c":"5"},{"w":973,"f":3.84e14,"c":"5"},{"w":974,"f":3.78e14,"c":"5"},{"w":976,"f":3.82e14,"c":"5"},{"w":977,"f":3.77e14,"c":"5"},{"w":979,"f":3.80e14,"c":"5"},{"w":980,"f":3.75e14,"c":"5"},{"w":982,"f":3.79e14,"c":"5"},{"w":983,"f":3.73e14,"c":"5"},{"w":985,"f":3.77e14,"c":"5"},{"w":986,"f":3.72e14,"c":"5"},{"w":988,"f":3.75e14,"c":"5"},{"w":989,"f":3.70e14,"c":"5"},{"w":991,"f":3.74e14,"c":"5"},{"w":992,"f":3.68e14,"c":"5"},{"w":994,"f":3.72e14,"c":"5"},{"w":995,"f":3.67e14,"c":"5"},{"w":997,"f":3.70e14,"c":"5"},{"w":998,"f":3.65e14,"c":"5"},{"w":1000,"f":3.69e14,"c":"5"},{"w":1001,"f":3.64e14,"c":"5"},{"w":1003,"f":3.67e14,"c":"5"},{"w":1004,"f":3.62e14,"c":"5"},{"w":1006,"f":3.65e14,"c":"5"},{"w":1007,"f":3.60e14,"c":"5"},{"w":1009,"f":3.63e14,"c":"5"},{"w":1010,"f":3.58e14,"c":"5"},{"w":1012,"f":3.61e14,"c":"5"},{"w":1013,"f":3.57e14,"c":"5"},{"w":1015,"f":3.60e14,"c":"5"},{"w":1016,"f":3.55e14,"c":"5"},{"w":1018,"f":3.58e14,"c":"5"},{"w":1019,"f":3.53e14,"c":"5"},{"w":1021,"f":3.56e14,"c":"5"},{"w":1022,"f":3.52e14,"c":"5"},{"w":1024,"f":3.54e14,"c":"5"},{"w":1025,"f":3.50e14,"c":"5"},{"w":1027,"f":3.53e14,"c":"5"},{"w":1028,"f":3.48e14,"c":"5"},{"w":1030,"f":3.51e14,"c":"5"},{"w":1031,"f":3.47e14,"c":"5"},{"w":1033,"f":3.49e14,"c":"5"},{"w":1034,"f":3.45e14,"c":"5"},{"w":1036,"f":3.48e14,"c":"5"},{"w":1037,"f":3.44e14,"c":"5"},{"w":1039,"f":3.46e14,"c":"5"},{"w":1040,"f":3.42e14,"c":"5"},{"w":1042,"f":3.45e14,"c":"5"},{"w":1043,"f":3.41e14,"c":"5"},{"w":1045,"f":3.43e14,"c":"5"},{"w":1046,"f":3.40e14,"c":"5"},{"w":1048,"f":3.41e14,"c":"5"},{"w":1049,"f":3.38e14,"c":"5"},{"w":1051,"f":3.40e14,"c":"5"},{"w":1052,"f":3.37e14,"c":"5"},{"w":1054,"f":3.38e14,"c":"5"},{"w":1055,"f":3.36e14,"c":"5"},{"w":1057,"f":3.37e14,"c":"5"},{"w":1058,"f":3.34e14,"c":"5"},{"w":1059,"f":3.36e14,"c":"5"},
{"w":807,"f":4.65e14,"c":"5"},{"w":810,"f":4.48e14,"c":"5"},{"w":813,"f":4.57e14,"c":"5"},{"w":816,"f":4.41e14,"c":"5"},{"w":819,"f":4.55e14,"c":"5"},{"w":822,"f":4.42e14,"c":"5"},{"w":825,"f":4.54e14,"c":"5"},{"w":828,"f":4.36e14,"c":"5"},{"w":831,"f":4.48e14,"c":"5"},{"w":834,"f":4.32e14,"c":"5"},{"w":837,"f":4.41e14,"c":"5"},{"w":840,"f":4.26e14,"c":"5"},{"w":843,"f":4.40e14,"c":"5"},{"w":846,"f":4.29e14,"c":"5"},{"w":849,"f":4.42e14,"c":"5"},{"w":852,"f":4.25e14,"c":"5"},{"w":855,"f":4.38e14,"c":"5"},{"w":858,"f":4.21e14,"c":"5"},{"w":861,"f":4.31e14,"c":"5"},{"w":864,"f":4.17e14,"c":"5"},{"w":867,"f":4.33e14,"c":"5"},{"w":870,"f":4.24e14,"c":"5"},{"w":873,"f":4.39e14,"c":"5"},{"w":876,"f":4.25e14,"c":"5"},{"w":879,"f":4.41e14,"c":"5"},{"w":882,"f":4.28e14,"c":"5"},{"w":885,"f":4.39e14,"c":"5"},{"w":888,"f":4.24e14,"c":"5"},{"w":891,"f":4.39e14,"c":"5"},{"w":894,"f":4.27e14,"c":"5"},{"w":897,"f":4.39e14,"c":"5"},{"w":900,"f":4.19e14,"c":"5"},{"w":903,"f":4.30e14,"c":"5"},{"w":906,"f":4.13e14,"c":"5"},{"w":909,"f":4.22e14,"c":"5"},{"w":912,"f":4.06e14,"c":"5"},{"w":915,"f":4.20e14,"c":"5"},{"w":918,"f":4.08e14,"c":"5"},{"w":921,"f":4.20e14,"c":"5"},{"w":924,"f":4.02e14,"c":"5"},{"w":927,"f":4.14e14,"c":"5"},{"w":930,"f":3.98e14,"c":"5"},{"w":933,"f":4.07e14,"c":"5"},{"w":936,"f":3.91e14,"c":"5"},{"w":939,"f":4.06e14,"c":"5"},{"w":942,"f":3.94e14,"c":"5"},{"w":945,"f":4.07e14,"c":"5"},{"w":948,"f":3.89e14,"c":"5"},{"w":951,"f":4.02e14,"c":"5"},{"w":954,"f":3.85e14,"c":"5"},{"w":957,"f":3.95e14,"c":"5"},{"w":960,"f":3.79e14,"c":"5"},{"w":963,"f":3.94e14,"c":"5"},{"w":966,"f":3.82e14,"c":"5"},{"w":969,"f":3.94e14,"c":"5"},{"w":972,"f":3.77e14,"c":"5"},{"w":975,"f":3.89e14,"c":"5"},{"w":978,"f":3.72e14,"c":"5"},{"w":981,"f":3.82e14,"c":"5"},{"w":984,"f":3.66e14,"c":"5"},{"w":987,"f":3.81e14,"c":"5"},{"w":990,"f":3.69e14,"c":"5"},{"w":993,"f":3.81e14,"c":"5"},{"w":996,"f":3.63e14,"c":"5"},{"w":999,"f":3.76e14,"c":"5"},{"w":1002,"f":3.59e14,"c":"5"},{"w":1005,"f":3.69e14,"c":"5"},{"w":1008,"f":3.53e14,"c":"5"},{"w":1011,"f":3.67e14,"c":"5"},{"w":1014,"f":3.55e14,"c":"5"},{"w":1017,"f":3.68e14,"c":"5"},{"w":1020,"f":3.50e14,"c":"5"},{"w":1023,"f":3.62e14,"c":"5"},{"w":1026,"f":3.46e14,"c":"5"},{"w":1029,"f":3.55e14,"c":"5"},{"w":1032,"f":3.39e14,"c":"5"},{"w":1035,"f":3.53e14,"c":"5"},{"w":1038,"f":3.42e14,"c":"5"},{"w":1041,"f":3.54e14,"c":"5"},{"w":1044,"f":3.36e14,"c":"5"},{"w":1047,"f":3.49e14,"c":"5"},{"w":1050,"f":3.32e14,"c":"5"},{"w":1053,"f":3.42e14,"c":"5"},{"w":1056,"f":3.26e14,"c":"5"},
{"w":780,"f":2.30e14,"c":"5"},{"w":850,"f":4.04e14,"c":"5"},{"w":850,"f":3.85e14,"c":"5"},{"w":854,"f":3.75e14,"c":"5"},{"w":855,"f":3.65e14,"c":"5"},{"w":867,"f":3.56e14,"c":"5"},{"w":866,"f":3.52e14,"c":"5"},{"w":855,"f":3.11e14,"c":"5"},{"w":867,"f":3.11e14,"c":"5"},{"w":855,"f":3.03e14,"c":"5"},{"w":881,"f":3.97e14,"c":"5"},{"w":902,"f":4.04e14,"c":"5"},{"w":902,"f":3.99e14,"c":"5"},{"w":923,"f":3.99e14,"c":"5"},{"w":923,"f":3.85e14,"c":"5"},{"w":942,"f":3.80e14,"c":"5"},{"w":942,"f":3.68e14,"c":"5"},{"w":956,"f":3.69e14,"c":"5"},{"w":989,"f":3.60e14,"c":"5"},{"w":1006,"f":3.55e14,"c":"5"},{"w":1006,"f":3.44e14,"c":"5"},{"w":1006,"f":3.37e14,"c":"5"},{"w":1059,"f":3.29e14,"c":"5"},{"w":1059,"f":3.20e14,"c":"5"},{"w":1059,"f":3.11e14,"c":"5"},{"w":1061,"f":1.92e14,"c":"5"},{"w":830,"f":4.25e14,"c":"5"},{"w":835,"f":4.20e14,"c":"5"},{"w":845,"f":4.15e14,"c":"5"},{"w":870,"f":4.10e14,"c":"5"},{"w":890,"f":4.18e14,"c":"5"},{"w":910,"f":4.02e14,"c":"5"},{"w":930,"f":3.92e14,"c":"5"},{"w":960,"f":3.78e14,"c":"5"},{"w":975,"f":3.68e14,"c":"5"},{"w":1020,"f":3.45e14,"c":"5"},{"w":1040,"f":3.35e14,"c":"5"},
{"w":597,"f":5.27e14,"c":"4"},{"w":597,"f":4.95e14,"c":"4"},{"w":598,"f":5.10e14,"c":"4"},{"w":598,"f":4.80e14,"c":"4"},{"w":599,"f":5.20e14,"c":"4"},{"w":600,"f":4.88e14,"c":"4"},{"w":601,"f":5.15e14,"c":"4"},{"w":602,"f":5.24e14,"c":"4"},{"w":603,"f":4.96e14,"c":"4"},{"w":604,"f":5.08e14,"c":"4"},{"w":605,"f":5.22e14,"c":"4"},{"w":606,"f":4.92e14,"c":"4"},{"w":607,"f":5.16e14,"c":"4"},{"w":608,"f":5.26e14,"c":"4"},{"w":609,"f":5.02e14,"c":"4"},{"w":610,"f":5.20e14,"c":"4"},{"w":611,"f":5.12e14,"c":"4"},{"w":612,"f":4.98e14,"c":"4"},{"w":613,"f":5.24e14,"c":"4"},{"w":614,"f":5.08e14,"c":"4"},{"w":615,"f":5.18e14,"c":"4"},{"w":616,"f":5.00e14,"c":"4"},{"w":617,"f":5.22e14,"c":"4"},{"w":618,"f":5.12e14,"c":"4"},{"w":619,"f":4.94e14,"c":"4"},{"w":620,"f":5.20e14,"c":"4"},{"w":621,"f":5.10e14,"c":"4"},{"w":622,"f":5.24e14,"c":"4"},{"w":623,"f":5.04e14,"c":"4"},{"w":624,"f":5.16e14,"c":"4"},{"w":625,"f":5.22e14,"c":"4"},{"w":626,"f":4.98e14,"c":"4"},{"w":627,"f":5.12e14,"c":"4"},{"w":628,"f":5.20e14,"c":"4"},{"w":629,"f":5.06e14,"c":"4"},{"w":630,"f":5.18e14,"c":"4"},{"w":631,"f":4.96e14,"c":"4"},{"w":632,"f":5.14e14,"c":"4"},{"w":633,"f":5.22e14,"c":"4"},{"w":634,"f":5.08e14,"c":"4"},{"w":635,"f":5.16e14,"c":"4"},{"w":636,"f":5.00e14,"c":"4"},{"w":637,"f":5.20e14,"c":"4"},{"w":638,"f":5.10e14,"c":"4"},{"w":639,"f":4.92e14,"c":"4"},{"w":640,"f":5.16e14,"c":"4"},{"w":641,"f":5.06e14,"c":"4"},{"w":642,"f":5.18e14,"c":"4"},{"w":643,"f":5.00e14,"c":"4"},{"w":644,"f":5.12e14,"c":"4"},{"w":645,"f":5.16e14,"c":"4"},{"w":646,"f":4.96e14,"c":"4"},{"w":647,"f":5.08e14,"c":"4"},{"w":648,"f":5.14e14,"c":"4"},{"w":649,"f":5.02e14,"c":"4"},{"w":650,"f":5.12e14,"c":"4"},{"w":651,"f":4.94e14,"c":"4"},{"w":652,"f":5.10e14,"c":"4"},{"w":653,"f":5.14e14,"c":"4"},{"w":654,"f":5.00e14,"c":"4"},{"w":655,"f":5.08e14,"c":"4"},{"w":656,"f":5.12e14,"c":"4"},{"w":657,"f":4.90e14,"c":"4"},{"w":658,"f":5.06e14,"c":"4"},{"w":659,"f":5.12e14,"c":"4"},{"w":660,"f":5.00e14,"c":"4"},{"w":662,"f":5.10e14,"c":"4"},{"w":664,"f":4.96e14,"c":"4"},{"w":666,"f":5.08e14,"c":"4"},{"w":668,"f":5.12e14,"c":"4"},{"w":670,"f":5.02e14,"c":"4"},{"w":672,"f":5.10e14,"c":"4"},{"w":674,"f":4.94e14,"c":"4"},{"w":676,"f":5.06e14,"c":"4"},{"w":678,"f":5.10e14,"c":"4"},{"w":680,"f":4.98e14,"c":"4"},{"w":682,"f":5.06e14,"c":"4"},{"w":684,"f":5.08e14,"c":"4"},{"w":686,"f":4.92e14,"c":"4"},{"w":688,"f":5.04e14,"c":"4"},{"w":690,"f":5.06e14,"c":"4"},{"w":692,"f":4.96e14,"c":"4"},{"w":694,"f":5.02e14,"c":"4"},{"w":696,"f":4.90e14,"c":"4"},{"w":698,"f":5.04e14,"c":"4"},{"w":700,"f":4.98e14,"c":"4"},{"w":702,"f":4.86e14,"c":"4"},{"w":704,"f":5.00e14,"c":"4"},{"w":706,"f":4.94e14,"c":"4"},{"w":708,"f":4.84e14,"c":"4"},{"w":710,"f":4.98e14,"c":"4"},{"w":712,"f":4.90e14,"c":"4"},{"w":714,"f":4.80e14,"c":"4"},{"w":716,"f":4.94e14,"c":"4"},{"w":718,"f":4.88e14,"c":"4"},{"w":720,"f":4.78e14,"c":"4"},{"w":722,"f":4.92e14,"c":"4"},{"w":724,"f":4.86e14,"c":"4"},{"w":726,"f":4.76e14,"c":"4"},{"w":728,"f":4.90e14,"c":"4"},{"w":730,"f":4.82e14,"c":"4"},{"w":732,"f":4.74e14,"c":"4"},{"w":734,"f":4.88e14,"c":"4"},{"w":736,"f":4.80e14,"c":"4"},{"w":738,"f":4.70e14,"c":"4"},{"w":740,"f":4.86e14,"c":"4"},{"w":742,"f":4.78e14,"c":"4"},{"w":744,"f":4.72e14,"c":"4"},{"w":746,"f":4.84e14,"c":"4"},{"w":748,"f":4.76e14,"c":"4"},{"w":750,"f":4.82e14,"c":"4"},{"w":752,"f":4.70e14,"c":"4"},{"w":754,"f":4.80e14,"c":"4"},{"w":756,"f":4.76e14,"c":"4"},{"w":758,"f":4.68e14,"c":"4"},{"w":760,"f":4.80e14,"c":"4"},{"w":762,"f":4.74e14,"c":"4"},{"w":764,"f":4.66e14,"c":"4"},{"w":766,"f":4.78e14,"c":"4"},{"w":768,"f":4.72e14,"c":"4"},{"w":770,"f":4.80e14,"c":"4"},{"w":772,"f":4.70e14,"c":"4"},{"w":774,"f":4.76e14,"c":"4"},{"w":776,"f":4.68e14,"c":"4"},{"w":778,"f":4.78e14,"c":"4"},{"w":780,"f":4.84e14,"c":"4"},{"w":781,"f":4.92e14,"c":"4"},{"w":782,"f":4.98e14,"c":"4"},{"w":783,"f":5.02e14,"c":"4"},{"w":784,"f":5.05e14,"c":"4"},{"w":785,"f":5.04e14,"c":"4"},{"w":786,"f":4.98e14,"c":"4"},{"w":787,"f":4.90e14,"c":"4"},{"w":788,"f":4.84e14,"c":"4"},{"w":789,"f":4.78e14,"c":"4"},{"w":790,"f":4.74e14,"c":"4"},{"w":791,"f":4.70e14,"c":"4"},{"w":792,"f":4.66e14,"c":"4"},{"w":793,"f":4.62e14,"c":"4"},{"w":794,"f":4.58e14,"c":"4"},{"w":795,"f":4.52e14,"c":"4"},{"w":796,"f":4.62e14,"c":"4"},{"w":797,"f":4.56e14,"c":"4"},{"w":798,"f":4.48e14,"c":"4"},{"w":799,"f":4.60e14,"c":"4"},{"w":800,"f":4.44e14,"c":"4"},{"w":802,"f":4.54e14,"c":"4"},{"w":804,"f":4.40e14,"c":"4"},{"w":806,"f":4.50e14,"c":"4"},{"w":808,"f":4.38e14,"c":"4"},{"w":810,"f":4.46e14,"c":"4"},
{"w":599,"f":5.18e14,"c":"4"},{"w":602,"f":5.00e14,"c":"4"},{"w":605,"f":5.12e14,"c":"4"},{"w":608,"f":4.96e14,"c":"4"},{"w":611,"f":5.15e14,"c":"4"},{"w":614,"f":5.05e14,"c":"4"},{"w":617,"f":5.20e14,"c":"4"},{"w":620,"f":5.02e14,"c":"4"},{"w":623,"f":5.18e14,"c":"4"},{"w":626,"f":5.00e14,"c":"4"},{"w":629,"f":5.12e14,"c":"4"},{"w":632,"f":4.96e14,"c":"4"},{"w":635,"f":5.15e14,"c":"4"},{"w":638,"f":5.04e14,"c":"4"},{"w":641,"f":5.18e14,"c":"4"},{"w":644,"f":4.99e14,"c":"4"},{"w":647,"f":5.15e14,"c":"4"},{"w":650,"f":4.96e14,"c":"4"},{"w":653,"f":5.08e14,"c":"4"},{"w":656,"f":4.91e14,"c":"4"},{"w":659,"f":5.10e14,"c":"4"},{"w":662,"f":4.99e14,"c":"4"},{"w":665,"f":5.14e14,"c":"4"},{"w":668,"f":4.95e14,"c":"4"},{"w":671,"f":5.11e14,"c":"4"},{"w":674,"f":4.92e14,"c":"4"},{"w":677,"f":5.04e14,"c":"4"},{"w":680,"f":4.87e14,"c":"4"},{"w":683,"f":5.06e14,"c":"4"},{"w":686,"f":4.95e14,"c":"4"},{"w":689,"f":5.10e14,"c":"4"},{"w":692,"f":4.90e14,"c":"4"},{"w":695,"f":5.05e14,"c":"4"},{"w":698,"f":4.86e14,"c":"4"},{"w":701,"f":4.97e14,"c":"4"},{"w":704,"f":4.80e14,"c":"4"},{"w":707,"f":4.98e14,"c":"4"},{"w":710,"f":4.87e14,"c":"4"},{"w":713,"f":5.01e14,"c":"4"},{"w":716,"f":4.82e14,"c":"4"},{"w":719,"f":4.97e14,"c":"4"},{"w":722,"f":4.77e14,"c":"4"},{"w":725,"f":4.88e14,"c":"4"},{"w":728,"f":4.71e14,"c":"4"},{"w":731,"f":4.89e14,"c":"4"},{"w":734,"f":4.78e14,"c":"4"},{"w":737,"f":4.92e14,"c":"4"},{"w":740,"f":4.74e14,"c":"4"},{"w":743,"f":4.89e14,"c":"4"},{"w":746,"f":4.70e14,"c":"4"},{"w":749,"f":4.82e14,"c":"4"},{"w":752,"f":4.65e14,"c":"4"},{"w":755,"f":4.84e14,"c":"4"},{"w":758,"f":4.73e14,"c":"4"},{"w":761,"f":4.87e14,"c":"4"},{"w":764,"f":4.69e14,"c":"4"},{"w":767,"f":4.84e14,"c":"4"},{"w":770,"f":4.66e14,"c":"4"},{"w":773,"f":4.78e14,"c":"4"},{"w":776,"f":4.62e14,"c":"4"},{"w":779,"f":4.83e14,"c":"4"},
{"w":605,"f":4.78e14,"c":"4"},{"w":608,"f":4.70e14,"c":"4"},{"w":612,"f":4.62e14,"c":"4"},{"w":616,"f":4.86e14,"c":"4"},{"w":624,"f":4.84e14,"c":"4"},{"w":633,"f":4.80e14,"c":"4"},{"w":645,"f":4.76e14,"c":"4"},{"w":655,"f":4.78e14,"c":"4"},{"w":660,"f":4.86e14,"c":"4"},{"w":668,"f":4.82e14,"c":"4"},{"w":676,"f":4.80e14,"c":"4"},{"w":690,"f":4.78e14,"c":"4"},{"w":700,"f":4.72e14,"c":"4"},{"w":705,"f":4.66e14,"c":"4"},{"w":715,"f":4.70e14,"c":"4"},{"w":725,"f":4.62e14,"c":"4"},{"w":735,"f":4.60e14,"c":"4"},{"w":745,"f":4.58e14,"c":"4"},{"w":755,"f":4.62e14,"c":"4"},{"w":765,"f":4.56e14,"c":"4"},{"w":775,"f":4.58e14,"c":"4"},
{"w":597,"f":2.83e14,"c":"4"},{"w":653,"f":3.62e14,"c":"4"},{"w":653,"f":3.39e14,"c":"4"},{"w":656,"f":4.41e14,"c":"4"},{"w":656,"f":4.15e14,"c":"4"},{"w":650,"f":4.70e14,"c":"4"},{"w":650,"f":4.60e14,"c":"4"},{"w":656,"f":4.70e14,"c":"4"},{"w":740,"f":4.57e14,"c":"4"},{"w":767,"f":4.50e14,"c":"4"},{"w":767,"f":4.43e14,"c":"4"},{"w":808,"f":2.48e14,"c":"4"},{"w":604,"f":4.55e14,"c":"4"},{"w":602,"f":4.42e14,"c":"4"},{"w":606,"f":4.66e14,"c":"4"},{"w":780,"f":4.36e14,"c":"4"},{"w":792,"f":4.30e14,"c":"4"},{"w":805,"f":4.25e14,"c":"4"},{"w":800,"f":4.55e14,"c":"4"},{"w":738,"f":4.57e14,"c":"4"},{"w":765,"f":4.53e14,"c":"4"},
{"w":996,"f":0.98e14,"c":"6"},{"w":997,"f":0.92e14,"c":"6"},{"w":998,"f":1.10e14,"c":"6"},{"w":999,"f":1.19e14,"c":"6"},{"w":1000,"f":1.30e14,"c":"6"},{"w":1002,"f":1.43e14,"c":"6"},{"w":1003,"f":1.52e14,"c":"6"},{"w":1005,"f":1.62e14,"c":"6"},{"w":1006,"f":1.74e14,"c":"6"},{"w":1008,"f":1.86e14,"c":"6"},{"w":1009,"f":2.02e14,"c":"6"},{"w":1010,"f":2.15e14,"c":"6"},{"w":1011,"f":2.27e14,"c":"6"},{"w":1012,"f":2.36e14,"c":"6"},{"w":1013,"f":2.45e14,"c":"6"},{"w":1014,"f":2.56e14,"c":"6"},{"w":1015,"f":2.68e14,"c":"6"},{"w":1016,"f":2.78e14,"c":"6"},{"w":1018,"f":2.91e14,"c":"6"},{"w":1020,"f":3.00e14,"c":"6"},{"w":1023,"f":3.09e14,"c":"6"},{"w":1025,"f":3.15e14,"c":"6"},{"w":1028,"f":3.20e14,"c":"6"},{"w":1031,"f":3.26e14,"c":"6"},{"w":1034,"f":3.31e14,"c":"6"},{"w":1036,"f":3.34e14,"c":"6"},{"w":1040,"f":3.37e14,"c":"6"},{"w":1043,"f":3.38e14,"c":"6"},
{"w":1045,"f":3.41e14,"c":"6"},{"w":1049,"f":3.36e14,"c":"6"},{"w":1053,"f":3.39e14,"c":"6"},{"w":1057,"f":3.35e14,"c":"6"},{"w":1061,"f":3.40e14,"c":"6"},{"w":1065,"f":3.37e14,"c":"6"},{"w":1069,"f":3.42e14,"c":"6"},{"w":1073,"f":3.31e14,"c":"6"},{"w":1077,"f":3.35e14,"c":"6"},{"w":1081,"f":3.27e14,"c":"6"},{"w":1085,"f":3.27e14,"c":"6"},{"w":1089,"f":3.21e14,"c":"6"},{"w":1093,"f":3.23e14,"c":"6"},{"w":1097,"f":3.18e14,"c":"6"},{"w":1101,"f":3.21e14,"c":"6"},{"w":1105,"f":3.12e14,"c":"6"},{"w":1109,"f":3.18e14,"c":"6"},{"w":1113,"f":3.12e14,"c":"6"},{"w":1117,"f":3.14e14,"c":"6"},{"w":1121,"f":3.09e14,"c":"6"},{"w":1125,"f":3.13e14,"c":"6"},{"w":1129,"f":3.09e14,"c":"6"},{"w":1133,"f":3.13e14,"c":"6"},{"w":1137,"f":3.04e14,"c":"6"},{"w":1141,"f":3.10e14,"c":"6"},{"w":1145,"f":3.05e14,"c":"6"},{"w":1149,"f":3.07e14,"c":"6"},{"w":1153,"f":3.02e14,"c":"6"},{"w":1157,"f":3.05e14,"c":"6"},{"w":1161,"f":3.01e14,"c":"6"},{"w":1165,"f":3.05e14,"c":"6"},{"w":1169,"f":2.96e14,"c":"6"},{"w":1173,"f":3.01e14,"c":"6"},{"w":1177,"f":2.95e14,"c":"6"},{"w":1181,"f":2.97e14,"c":"6"},{"w":1185,"f":2.92e14,"c":"6"},{"w":1189,"f":2.96e14,"c":"6"},{"w":1193,"f":2.92e14,"c":"6"},{"w":1197,"f":2.96e14,"c":"6"},{"w":1201,"f":2.88e14,"c":"6"},{"w":1205,"f":2.93e14,"c":"6"},{"w":1209,"f":2.87e14,"c":"6"},{"w":1213,"f":2.89e14,"c":"6"},{"w":1217,"f":2.84e14,"c":"6"},{"w":1221,"f":2.87e14,"c":"6"},{"w":1225,"f":2.83e14,"c":"6"},{"w":1229,"f":2.87e14,"c":"6"},{"w":1233,"f":2.78e14,"c":"6"},{"w":1237,"f":2.83e14,"c":"6"},{"w":1241,"f":2.77e14,"c":"6"},{"w":1245,"f":2.79e14,"c":"6"},{"w":1249,"f":2.74e14,"c":"6"},{"w":1253,"f":2.78e14,"c":"6"},{"w":1257,"f":2.73e14,"c":"6"},{"w":1261,"f":2.76e14,"c":"6"},{"w":1265,"f":2.67e14,"c":"6"},{"w":1269,"f":2.72e14,"c":"6"},{"w":1273,"f":2.65e14,"c":"6"},{"w":1277,"f":2.67e14,"c":"6"},{"w":1281,"f":2.61e14,"c":"6"},{"w":1285,"f":2.65e14,"c":"6"},{"w":1289,"f":2.61e14,"c":"6"},{"w":1293,"f":2.65e14,"c":"6"},{"w":1297,"f":2.56e14,"c":"6"},{"w":1301,"f":2.62e14,"c":"6"},{"w":1305,"f":2.57e14,"c":"6"},{"w":1309,"f":2.58e14,"c":"6"},{"w":1313,"f":2.53e14,"c":"6"},{"w":1317,"f":2.58e14,"c":"6"},{"w":1321,"f":2.54e14,"c":"6"},{"w":1325,"f":2.58e14,"c":"6"},{"w":1329,"f":2.49e14,"c":"6"},{"w":1333,"f":2.55e14,"c":"6"},{"w":1337,"f":2.49e14,"c":"6"},{"w":1341,"f":2.51e14,"c":"6"},{"w":1345,"f":2.46e14,"c":"6"},{"w":1349,"f":2.50e14,"c":"6"},{"w":1353,"f":2.46e14,"c":"6"},{"w":1357,"f":2.50e14,"c":"6"},{"w":1361,"f":2.41e14,"c":"6"},{"w":1365,"f":2.47e14,"c":"6"},{"w":1369,"f":2.42e14,"c":"6"},{"w":1373,"f":2.44e14,"c":"6"},{"w":1377,"f":2.39e14,"c":"6"},{"w":1381,"f":2.43e14,"c":"6"},{"w":1385,"f":2.39e14,"c":"6"},{"w":1389,"f":2.43e14,"c":"6"},{"w":1393,"f":2.34e14,"c":"6"},{"w":1397,"f":2.40e14,"c":"6"},{"w":1401,"f":2.34e14,"c":"6"},{"w":1405,"f":2.36e14,"c":"6"},{"w":1409,"f":2.31e14,"c":"6"},{"w":1413,"f":2.35e14,"c":"6"},{"w":1417,"f":2.31e14,"c":"6"},{"w":1421,"f":2.35e14,"c":"6"},{"w":1425,"f":2.26e14,"c":"6"},{"w":1429,"f":2.32e14,"c":"6"},{"w":1433,"f":2.27e14,"c":"6"},{"w":1437,"f":2.28e14,"c":"6"},{"w":1441,"f":2.23e14,"c":"6"},{"w":1445,"f":2.27e14,"c":"6"},{"w":1449,"f":2.23e14,"c":"6"},{"w":1453,"f":2.27e14,"c":"6"},{"w":1457,"f":2.18e14,"c":"6"},{"w":1461,"f":2.24e14,"c":"6"},{"w":1465,"f":2.18e14,"c":"6"},{"w":1469,"f":2.20e14,"c":"6"},{"w":1473,"f":2.15e14,"c":"6"},{"w":1477,"f":2.19e14,"c":"6"},{"w":1481,"f":2.15e14,"c":"6"},{"w":1485,"f":2.20e14,"c":"6"},{"w":1489,"f":2.11e14,"c":"6"},{"w":1493,"f":2.17e14,"c":"6"},{"w":1497,"f":2.11e14,"c":"6"},{"w":1501,"f":2.13e14,"c":"6"},{"w":1505,"f":2.08e14,"c":"6"},{"w":1509,"f":2.12e14,"c":"6"},{"w":1513,"f":2.08e14,"c":"6"},{"w":1517,"f":2.12e14,"c":"6"},{"w":1521,"f":2.03e14,"c":"6"},{"w":1525,"f":2.09e14,"c":"6"},{"w":1529,"f":2.03e14,"c":"6"},{"w":1533,"f":2.05e14,"c":"6"},{"w":1537,"f":2.00e14,"c":"6"},{"w":1541,"f":2.04e14,"c":"6"},{"w":1545,"f":2.00e14,"c":"6"},{"w":1549,"f":2.04e14,"c":"6"},{"w":1553,"f":1.94e14,"c":"6"},{"w":1557,"f":2.00e14,"c":"6"},{"w":1561,"f":1.94e14,"c":"6"},{"w":1565,"f":1.96e14,"c":"6"},{"w":1569,"f":1.90e14,"c":"6"},{"w":1573,"f":1.93e14,"c":"6"},{"w":1577,"f":1.88e14,"c":"6"},{"w":1581,"f":1.91e14,"c":"6"},{"w":1585,"f":1.81e14,"c":"6"},{"w":1589,"f":1.86e14,"c":"6"},{"w":1593,"f":1.79e14,"c":"6"},{"w":1597,"f":1.81e14,"c":"6"},{"w":1601,"f":1.76e14,"c":"6"},{"w":1605,"f":1.80e14,"c":"6"},{"w":1609,"f":1.76e14,"c":"6"},{"w":1613,"f":1.81e14,"c":"6"},{"w":1617,"f":1.72e14,"c":"6"},{"w":1621,"f":1.78e14,"c":"6"},{"w":1625,"f":1.73e14,"c":"6"},{"w":1629,"f":1.74e14,"c":"6"},{"w":1633,"f":1.69e14,"c":"6"},{"w":1637,"f":1.73e14,"c":"6"},{"w":1641,"f":1.69e14,"c":"6"},{"w":1645,"f":1.73e14,"c":"6"},{"w":1649,"f":1.64e14,"c":"6"},{"w":1653,"f":1.70e14,"c":"6"},{"w":1657,"f":1.65e14,"c":"6"},{"w":1661,"f":1.66e14,"c":"6"},{"w":1665,"f":1.62e14,"c":"6"},{"w":1669,"f":1.65e14,"c":"6"},{"w":1673,"f":1.61e14,"c":"6"},{"w":1677,"f":1.65e14,"c":"6"},{"w":1681,"f":1.56e14,"c":"6"},{"w":1685,"f":1.61e14,"c":"6"},{"w":1689,"f":1.56e14,"c":"6"},{"w":1693,"f":1.56e14,"c":"6"},{"w":1697,"f":1.52e14,"c":"6"},{"w":1701,"f":1.55e14,"c":"6"},{"w":1705,"f":1.51e14,"c":"6"},{"w":1709,"f":1.55e14,"c":"6"},{"w":1713,"f":1.46e14,"c":"6"},{"w":1717,"f":1.51e14,"c":"6"},{"w":1721,"f":1.46e14,"c":"6"},{"w":1725,"f":1.46e14,"c":"6"},{"w":1729,"f":1.40e14,"c":"6"},{"w":1733,"f":1.44e14,"c":"6"},{"w":1737,"f":1.39e14,"c":"6"},{"w":1741,"f":1.42e14,"c":"6"},{"w":1745,"f":1.33e14,"c":"6"},{"w":1749,"f":1.37e14,"c":"6"},{"w":1753,"f":1.34e14,"c":"6"},{"w":1757,"f":1.36e14,"c":"6"},{"w":1761,"f":1.30e14,"c":"6"},
{"w":1047,"f":3.35e14,"c":"6"},{"w":1051,"f":3.40e14,"c":"6"},{"w":1055,"f":3.37e14,"c":"6"},{"w":1059,"f":3.42e14,"c":"6"},{"w":1063,"f":3.36e14,"c":"6"},{"w":1067,"f":3.39e14,"c":"6"},{"w":1071,"f":3.33e14,"c":"6"},{"w":1075,"f":3.37e14,"c":"6"},{"w":1079,"f":3.28e14,"c":"6"},{"w":1083,"f":3.30e14,"c":"6"},{"w":1087,"f":3.21e14,"c":"6"},{"w":1091,"f":3.23e14,"c":"6"},{"w":1095,"f":3.16e14,"c":"6"},{"w":1099,"f":3.21e14,"c":"6"},{"w":1103,"f":3.13e14,"c":"6"},{"w":1107,"f":3.17e14,"c":"6"},{"w":1111,"f":3.14e14,"c":"6"},{"w":1115,"f":3.18e14,"c":"6"},{"w":1119,"f":3.10e14,"c":"6"},{"w":1123,"f":3.13e14,"c":"6"},{"w":1127,"f":3.07e14,"c":"6"},{"w":1131,"f":3.13e14,"c":"6"},{"w":1135,"f":3.06e14,"c":"6"},{"w":1139,"f":3.10e14,"c":"6"},{"w":1143,"f":3.06e14,"c":"6"},{"w":1147,"f":3.10e14,"c":"6"},{"w":1151,"f":3.03e14,"c":"6"},{"w":1155,"f":3.05e14,"c":"6"},{"w":1159,"f":2.99e14,"c":"6"},{"w":1163,"f":3.03e14,"c":"6"},{"w":1167,"f":2.98e14,"c":"6"},{"w":1171,"f":3.00e14,"c":"6"},{"w":1175,"f":2.94e14,"c":"6"},{"w":1179,"f":3.00e14,"c":"6"},{"w":1183,"f":2.93e14,"c":"6"},{"w":1187,"f":2.97e14,"c":"6"},{"w":1191,"f":2.93e14,"c":"6"},{"w":1195,"f":2.97e14,"c":"6"},{"w":1199,"f":2.90e14,"c":"6"},{"w":1203,"f":2.92e14,"c":"6"},{"w":1207,"f":2.86e14,"c":"6"},{"w":1211,"f":2.89e14,"c":"6"},{"w":1215,"f":2.84e14,"c":"6"},{"w":1219,"f":2.90e14,"c":"6"},{"w":1223,"f":2.83e14,"c":"6"},{"w":1227,"f":2.85e14,"c":"6"},{"w":1231,"f":2.78e14,"c":"6"},{"w":1235,"f":2.84e14,"c":"6"},{"w":1239,"f":2.77e14,"c":"6"},{"w":1243,"f":2.81e14,"c":"6"},{"w":1247,"f":2.76e14,"c":"6"},{"w":1251,"f":2.80e14,"c":"6"},{"w":1255,"f":2.73e14,"c":"6"},{"w":1259,"f":2.74e14,"c":"6"},{"w":1263,"f":2.68e14,"c":"6"},{"w":1267,"f":2.74e14,"c":"6"},{"w":1271,"f":2.66e14,"c":"6"},{"w":1275,"f":2.68e14,"c":"6"},{"w":1279,"f":2.61e14,"c":"6"},{"w":1283,"f":2.67e14,"c":"6"},{"w":1287,"f":2.60e14,"c":"6"},{"w":1291,"f":2.64e14,"c":"6"},{"w":1295,"f":2.60e14,"c":"6"},{"w":1299,"f":2.64e14,"c":"6"},{"w":1303,"f":2.57e14,"c":"6"},{"w":1307,"f":2.59e14,"c":"6"},{"w":1311,"f":2.53e14,"c":"6"},{"w":1315,"f":2.59e14,"c":"6"},{"w":1319,"f":2.52e14,"c":"6"},{"w":1323,"f":2.56e14,"c":"6"},{"w":1327,"f":2.52e14,"c":"6"},{"w":1331,"f":2.56e14,"c":"6"},{"w":1335,"f":2.49e14,"c":"6"},{"w":1339,"f":2.51e14,"c":"6"},{"w":1343,"f":2.45e14,"c":"6"},{"w":1347,"f":2.52e14,"c":"6"},{"w":1351,"f":2.45e14,"c":"6"},{"w":1355,"f":2.49e14,"c":"6"},{"w":1359,"f":2.45e14,"c":"6"},{"w":1363,"f":2.49e14,"c":"6"},{"w":1367,"f":2.42e14,"c":"6"},{"w":1371,"f":2.44e14,"c":"6"},{"w":1375,"f":2.38e14,"c":"6"},{"w":1379,"f":2.44e14,"c":"6"},{"w":1383,"f":2.37e14,"c":"6"},{"w":1387,"f":2.41e14,"c":"6"},{"w":1391,"f":2.37e14,"c":"6"},{"w":1395,"f":2.41e14,"c":"6"},{"w":1399,"f":2.34e14,"c":"6"},{"w":1403,"f":2.36e14,"c":"6"},{"w":1407,"f":2.31e14,"c":"6"},{"w":1411,"f":2.36e14,"c":"6"},{"w":1415,"f":2.29e14,"c":"6"},{"w":1419,"f":2.33e14,"c":"6"},{"w":1423,"f":2.29e14,"c":"6"},{"w":1427,"f":2.33e14,"c":"6"},{"w":1431,"f":2.26e14,"c":"6"},{"w":1435,"f":2.28e14,"c":"6"},{"w":1439,"f":2.22e14,"c":"6"},{"w":1443,"f":2.28e14,"c":"6"},{"w":1447,"f":2.21e14,"c":"6"},{"w":1451,"f":2.25e14,"c":"6"},{"w":1455,"f":2.21e14,"c":"6"},{"w":1459,"f":2.25e14,"c":"6"},{"w":1463,"f":2.19e14,"c":"6"},{"w":1467,"f":2.21e14,"c":"6"},{"w":1471,"f":2.15e14,"c":"6"},{"w":1475,"f":2.21e14,"c":"6"},{"w":1479,"f":2.14e14,"c":"6"},{"w":1483,"f":2.18e14,"c":"6"},{"w":1487,"f":2.14e14,"c":"6"},{"w":1491,"f":2.18e14,"c":"6"},{"w":1495,"f":2.11e14,"c":"6"},{"w":1499,"f":2.13e14,"c":"6"},{"w":1503,"f":2.07e14,"c":"6"},{"w":1507,"f":2.13e14,"c":"6"},{"w":1511,"f":2.07e14,"c":"6"},{"w":1515,"f":2.11e14,"c":"6"},{"w":1519,"f":2.07e14,"c":"6"},{"w":1523,"f":2.11e14,"c":"6"},{"w":1527,"f":2.03e14,"c":"6"},{"w":1531,"f":2.06e14,"c":"6"},{"w":1535,"f":2.00e14,"c":"6"},{"w":1539,"f":2.06e14,"c":"6"},{"w":1543,"f":1.99e14,"c":"6"},{"w":1547,"f":2.02e14,"c":"6"},{"w":1551,"f":1.99e14,"c":"6"},{"w":1555,"f":2.02e14,"c":"6"},{"w":1559,"f":1.94e14,"c":"6"},{"w":1563,"f":1.96e14,"c":"6"},{"w":1567,"f":1.90e14,"c":"6"},{"w":1571,"f":1.96e14,"c":"6"},{"w":1575,"f":1.87e14,"c":"6"},{"w":1579,"f":1.90e14,"c":"6"},{"w":1583,"f":1.85e14,"c":"6"},{"w":1587,"f":1.88e14,"c":"6"},{"w":1591,"f":1.79e14,"c":"6"},{"w":1595,"f":1.81e14,"c":"6"},{"w":1599,"f":1.76e14,"c":"6"},{"w":1603,"f":1.82e14,"c":"6"},{"w":1607,"f":1.76e14,"c":"6"},{"w":1611,"f":1.79e14,"c":"6"},{"w":1615,"f":1.75e14,"c":"6"},{"w":1619,"f":1.79e14,"c":"6"},{"w":1623,"f":1.71e14,"c":"6"},{"w":1627,"f":1.75e14,"c":"6"},{"w":1631,"f":1.68e14,"c":"6"},{"w":1635,"f":1.74e14,"c":"6"},{"w":1639,"f":1.68e14,"c":"6"},{"w":1643,"f":1.72e14,"c":"6"},{"w":1647,"f":1.68e14,"c":"6"},{"w":1651,"f":1.72e14,"c":"6"},{"w":1655,"f":1.64e14,"c":"6"},{"w":1659,"f":1.66e14,"c":"6"},{"w":1663,"f":1.61e14,"c":"6"},{"w":1667,"f":1.67e14,"c":"6"},{"w":1671,"f":1.61e14,"c":"6"},{"w":1675,"f":1.62e14,"c":"6"},{"w":1679,"f":1.60e14,"c":"6"},{"w":1683,"f":1.63e14,"c":"6"},{"w":1687,"f":1.55e14,"c":"6"},{"w":1691,"f":1.58e14,"c":"6"},{"w":1695,"f":1.51e14,"c":"6"},{"w":1699,"f":1.57e14,"c":"6"},{"w":1703,"f":1.50e14,"c":"6"},{"w":1707,"f":1.52e14,"c":"6"},{"w":1711,"f":1.50e14,"c":"6"},{"w":1715,"f":1.53e14,"c":"6"},{"w":1719,"f":1.45e14,"c":"6"},{"w":1723,"f":1.48e14,"c":"6"},{"w":1727,"f":1.40e14,"c":"6"},{"w":1731,"f":1.45e14,"c":"6"},{"w":1735,"f":1.39e14,"c":"6"},{"w":1739,"f":1.40e14,"c":"6"},{"w":1743,"f":1.37e14,"c":"6"},{"w":1747,"f":1.39e14,"c":"6"},{"w":1751,"f":1.32e14,"c":"6"},{"w":1755,"f":1.35e14,"c":"6"},{"w":1759,"f":1.29e14,"c":"6"},
{"w":1583,"f":1.95e14,"c":"6"},{"w":1592,"f":1.70e14,"c":"6"},{"w":1600,"f":1.85e14,"c":"6"},{"w":1608,"f":1.68e14,"c":"6"},{"w":1620,"f":1.66e14,"c":"6"},{"w":1628,"f":1.82e14,"c":"6"},{"w":1636,"f":1.62e14,"c":"6"},{"w":1644,"f":1.78e14,"c":"6"},{"w":1652,"f":1.60e14,"c":"6"},{"w":1660,"f":1.74e14,"c":"6"},{"w":1671,"f":1.54e14,"c":"6"},{"w":1680,"f":1.70e14,"c":"6"},{"w":1688,"f":1.50e14,"c":"6"},{"w":1700,"f":1.62e14,"c":"6"},{"w":1710,"f":1.44e14,"c":"6"},{"w":1715,"f":1.58e14,"c":"6"},{"w":1725,"f":1.52e14,"c":"6"},{"w":1735,"f":1.33e14,"c":"6"},{"w":1740,"f":1.36e14,"c":"6"},{"w":1758,"f":1.27e14,"c":"6"},{"w":1755,"f":1.35e14,"c":"6"},{"w":1095,"f":3.03e14,"c":"6"},{"w":1090,"f":3.10e14,"c":"6"},{"w":1150,"f":2.95e14,"c":"6"},{"w":1183,"f":2.83e14,"c":"6"},{"w":1198,"f":2.80e14,"c":"6"},{"w":1213,"f":2.78e14,"c":"6"},{"w":1110,"f":3.06e14,"c":"6"},{"w":1130,"f":3.00e14,"c":"6"},{"w":1160,"f":2.93e14,"c":"6"},{"w":1170,"f":2.90e14,"c":"6"},{"w":1283,"f":2.46e14,"c":"6"},{"w":1283,"f":2.42e14,"c":"6"},{"w":1505,"f":1.95e14,"c":"6"},{"w":1505,"f":1.89e14,"c":"6"},{"w":1502,"f":1.92e14,"c":"6"},{"w":1590,"f":1.63e14,"c":"6"},{"w":1761,"f":2.03e14,"c":"6"},{"w":1048,"f":3.28e14,"c":"6"},{"w":1058,"f":3.22e14,"c":"6"},{"w":1062,"f":3.30e14,"c":"6"},{"w":1074,"f":3.20e14,"c":"6"},{"w":1080,"f":3.15e14,"c":"6"},{"w":1045,"f":3.25e14,"c":"6"},{"w":1066,"f":3.26e14,"c":"6"},{"w":1086,"f":3.22e14,"c":"6"},
{"w":1935,"f":1.02e14,"c":"7"},{"w":1935,"f":0.97e14,"c":"7"},{"w":1936,"f":0.93e14,"c":"7"},{"w":1936,"f":0.90e14,"c":"7"},{"w":1937,"f":0.99e14,"c":"7"},{"w":1937,"f":0.95e14,"c":"7"},{"w":1938,"f":1.00e14,"c":"7"},{"w":1938,"f":0.88e14,"c":"7"},{"w":1939,"f":0.94e14,"c":"7"},{"w":1940,"f":0.90e14,"c":"7"},{"w":1941,"f":0.96e14,"c":"7"},{"w":1942,"f":0.86e14,"c":"7"},{"w":1943,"f":0.92e14,"c":"7"},{"w":1944,"f":0.84e14,"c":"7"},{"w":1945,"f":0.89e14,"c":"7"},{"w":1946,"f":0.83e14,"c":"7"},{"w":1947,"f":0.91e14,"c":"7"},{"w":1948,"f":0.86e14,"c":"7"},{"w":1949,"f":0.80e14,"c":"7"},{"w":1950,"f":0.87e14,"c":"7"},{"w":1951,"f":0.84e14,"c":"7"},{"w":1952,"f":0.90e14,"c":"7"},{"w":1953,"f":0.82e14,"c":"7"},{"w":1954,"f":0.86e14,"c":"7"},{"w":1955,"f":0.80e14,"c":"7"},{"w":1956,"f":0.88e14,"c":"7"},{"w":1957,"f":0.84e14,"c":"7"},{"w":1958,"f":0.81e14,"c":"7"},{"w":1959,"f":0.86e14,"c":"7"},{"w":1960,"f":0.83e14,"c":"7"},{"w":1962,"f":0.80e14,"c":"7"},{"w":1963,"f":0.85e14,"c":"7"},{"w":1965,"f":0.82e14,"c":"7"},{"w":1966,"f":0.78e14,"c":"7"},{"w":1968,"f":0.84e14,"c":"7"},{"w":1969,"f":0.80e14,"c":"7"},{"w":1971,"f":0.83e14,"c":"7"},{"w":1972,"f":0.78e14,"c":"7"},{"w":1974,"f":0.82e14,"c":"7"},{"w":1975,"f":0.79e14,"c":"7"},{"w":1977,"f":0.84e14,"c":"7"},{"w":1978,"f":0.76e14,"c":"7"},{"w":1980,"f":0.81e14,"c":"7"},{"w":1981,"f":0.78e14,"c":"7"},{"w":1983,"f":0.82e14,"c":"7"},{"w":1984,"f":0.77e14,"c":"7"},{"w":1986,"f":0.80e14,"c":"7"},{"w":1987,"f":0.76e14,"c":"7"},{"w":1989,"f":0.81e14,"c":"7"},{"w":1990,"f":0.78e14,"c":"7"},{"w":1992,"f":0.79e14,"c":"7"},{"w":1993,"f":0.75e14,"c":"7"},{"w":1995,"f":0.80e14,"c":"7"},{"w":1996,"f":0.77e14,"c":"7"},{"w":1998,"f":0.79e14,"c":"7"},{"w":1999,"f":0.75e14,"c":"7"},{"w":2001,"f":0.87e14,"c":"7"},{"w":2001,"f":0.78e14,"c":"7"},{"w":2003,"f":0.76e14,"c":"7"},{"w":2004,"f":0.80e14,"c":"7"},{"w":2006,"f":0.74e14,"c":"7"},{"w":2007,"f":0.78e14,"c":"7"},{"w":2009,"f":0.76e14,"c":"7"},{"w":2010,"f":0.80e14,"c":"7"},{"w":2012,"f":0.74e14,"c":"7"},{"w":2013,"f":0.77e14,"c":"7"},{"w":2015,"f":0.79e14,"c":"7"},{"w":2016,"f":0.75e14,"c":"7"},{"w":2018,"f":0.81e14,"c":"7"},{"w":2019,"f":0.76e14,"c":"7"},{"w":2021,"f":0.78e14,"c":"7"},{"w":2022,"f":0.74e14,"c":"7"},{"w":2024,"f":0.79e14,"c":"7"},{"w":2025,"f":0.76e14,"c":"7"},{"w":2027,"f":0.80e14,"c":"7"},{"w":2028,"f":0.73e14,"c":"7"},{"w":2030,"f":0.77e14,"c":"7"},{"w":2031,"f":0.85e14,"c":"7"},{"w":2032,"f":0.75e14,"c":"7"},{"w":2034,"f":0.79e14,"c":"7"},{"w":2035,"f":0.73e14,"c":"7"},{"w":2036,"f":0.77e14,"c":"7"},{"w":2038,"f":0.75e14,"c":"7"},{"w":2039,"f":0.78e14,"c":"7"},{"w":2040,"f":0.72e14,"c":"7"},{"w":2041,"f":0.76e14,"c":"7"},{"w":2042,"f":0.79e14,"c":"7"},{"w":2043,"f":0.74e14,"c":"7"},{"w":2044,"f":0.77e14,"c":"7"},
{"w":1936,"f":0.65e14,"c":"7"},{"w":1945,"f":0.76e14,"c":"7"},{"w":1948,"f":0.72e14,"c":"7"},{"w":1951,"f":0.74e14,"c":"7"},{"w":1968,"f":0.72e14,"c":"7"},{"w":1972,"f":0.70e14,"c":"7"},{"w":1976,"f":0.67e14,"c":"7"},{"w":1981,"f":0.65e14,"c":"7"},{"w":1975,"f":0.62e14,"c":"7"},{"w":1990,"f":0.70e14,"c":"7"},{"w":1995,"f":0.61e14,"c":"7"},{"w":2010,"f":0.69e14,"c":"7"},{"w":1981,"f":0.38e14,"c":"7"},{"w":2044,"f":0.01e14,"c":"7"},{"w":2041,"f":0.66e14,"c":"7"},{"w":2043,"f":0.61e14,"c":"7"},{"w":2038,"f":0.70e14,"c":"7"},{"w":2022,"f":0.69e14,"c":"7"},{"w":2000,"f":0.72e14,"c":"7"},
{"w":2260,"f":0.57e14,"c":"8"},{"w":2260,"f":0.55e14,"c":"8"},{"w":2261,"f":0.53e14,"c":"8"},{"w":2262,"f":0.56e14,"c":"8"},{"w":2263,"f":0.54e14,"c":"8"},{"w":2264,"f":0.52e14,"c":"8"},{"w":2265,"f":0.54e14,"c":"8"},{"w":2266,"f":0.51e14,"c":"8"},{"w":2267,"f":0.52e14,"c":"8"},{"w":2268,"f":0.50e14,"c":"8"},{"w":2269,"f":0.51e14,"c":"8"},{"w":2270,"f":0.49e14,"c":"8"},{"w":2271,"f":0.48e14,"c":"8"},{"w":2272,"f":0.49e14,"c":"8"},{"w":2273,"f":0.47e14,"c":"8"},{"w":2274,"f":0.46e14,"c":"8"},{"w":2275,"f":0.47e14,"c":"8"},{"w":2276,"f":0.45e14,"c":"8"},{"w":2277,"f":0.44e14,"c":"8"},{"w":2278,"f":0.45e14,"c":"8"},{"w":2279,"f":0.43e14,"c":"8"},{"w":2280,"f":0.44e14,"c":"8"},{"w":2281,"f":0.42e14,"c":"8"},{"w":2282,"f":0.43e14,"c":"8"},{"w":2283,"f":0.41e14,"c":"8"},{"w":2285,"f":0.41e14,"c":"8"},{"w":2286,"f":0.40e14,"c":"8"},{"w":2288,"f":0.40e14,"c":"8"},{"w":2289,"f":0.39e14,"c":"8"},{"w":2291,"f":0.39e14,"c":"8"},{"w":2292,"f":0.38e14,"c":"8"},{"w":2294,"f":0.38e14,"c":"8"},{"w":2295,"f":0.37e14,"c":"8"},{"w":2297,"f":0.37e14,"c":"8"},{"w":2298,"f":0.36e14,"c":"8"},{"w":2300,"f":0.36e14,"c":"8"},{"w":2302,"f":0.35e14,"c":"8"},{"w":2303,"f":0.36e14,"c":"8"},{"w":2305,"f":0.34e14,"c":"8"},{"w":2307,"f":0.35e14,"c":"8"},{"w":2308,"f":0.33e14,"c":"8"},{"w":2310,"f":0.34e14,"c":"8"},{"w":2312,"f":0.33e14,"c":"8"},{"w":2314,"f":0.32e14,"c":"8"},{"w":2316,"f":0.33e14,"c":"8"},{"w":2318,"f":0.32e14,"c":"8"},{"w":2320,"f":0.31e14,"c":"8"},{"w":2322,"f":0.32e14,"c":"8"},{"w":2324,"f":0.31e14,"c":"8"},{"w":2326,"f":0.30e14,"c":"8"},{"w":2328,"f":0.31e14,"c":"8"},{"w":2330,"f":0.30e14,"c":"8"},{"w":2332,"f":0.31e14,"c":"8"},{"w":2334,"f":0.29e14,"c":"8"},{"w":2336,"f":0.30e14,"c":"8"},{"w":2338,"f":0.31e14,"c":"8"},{"w":2340,"f":0.29e14,"c":"8"},{"w":2342,"f":0.30e14,"c":"8"},{"w":2344,"f":0.30e14,"c":"8"},{"w":2346,"f":0.29e14,"c":"8"},{"w":2348,"f":0.30e14,"c":"8"},{"w":2350,"f":0.31e14,"c":"8"},{"w":2352,"f":0.29e14,"c":"8"},{"w":2354,"f":0.30e14,"c":"8"},{"w":2356,"f":0.31e14,"c":"8"},{"w":2358,"f":0.30e14,"c":"8"},{"w":2360,"f":0.31e14,"c":"8"},{"w":2362,"f":0.32e14,"c":"8"},{"w":2364,"f":0.31e14,"c":"8"},{"w":2366,"f":0.32e14,"c":"8"},{"w":2368,"f":0.32e14,"c":"8"},{"w":2370,"f":0.33e14,"c":"8"},{"w":2372,"f":0.33e14,"c":"8"},{"w":2374,"f":0.34e14,"c":"8"},{"w":2376,"f":0.34e14,"c":"8"},{"w":2378,"f":0.35e14,"c":"8"},{"w":2380,"f":0.36e14,"c":"8"},{"w":2382,"f":0.35e14,"c":"8"},{"w":2383,"f":0.37e14,"c":"8"},{"w":2384,"f":0.36e14,"c":"8"},{"w":2385,"f":0.38e14,"c":"8"},
{"w":2281,"f":0.39e14,"c":"8"},{"w":2281,"f":0.37e14,"c":"8"},{"w":2313,"f":0.28e14,"c":"8"},{"w":2313,"f":0.22e14,"c":"8"},{"w":2321,"f":0.19e14,"c":"8"},{"w":2365,"f":0.27e14,"c":"8"},{"w":2366,"f":0.26e14,"c":"8"},{"w":2384,"f":0.24e14,"c":"8"},{"w":2384,"f":0.12e14,"c":"8"},{"w":2384,"f":0.08e14,"c":"8"},{"w":2385,"f":0.06e14,"c":"8"},{"w":2384,"f":0.04e14,"c":"8"},{"w":2385,"f":0.02e14,"c":"8"},{"w":2259,"f":0.03e14,"c":"8"},{"w":2259,"f":0.02e14,"c":"8"},{"w":2260,"f":0.01e14,"c":"8"},{"w":2316,"f":0.35e14,"c":"8"},{"w":2360,"f":0.33e14,"c":"8"},{"w":2370,"f":0.30e14,"c":"8"},{"w":2300,"f":0.38e14,"c":"8"},{"w":2270,"f":0.52e14,"c":"8"},{"w":2275,"f":0.49e14,"c":"8"}
]},
"resolve": {"axis": {"x": "independent", "y": "independent"}},
"layer": [
{"data": {"name": "spec"},
 "mark": {"type": "square", "size": 24, "filled": true, "opacity": 1},
 "encoding": {
  "x": {"field": "w", "type": "quantitative", "scale": {"domain": [0, 2500], "nice": false, "zero": false},
   "axis": {"orient": "bottom", "values": [0, 500, 1000, 1500, 2000, 2500], "format": "d", "ticks": false, "domain": true, "labelFontSize": 80, "labelBaseline": "alphabetic", "labelPadding": 101, "labelFlush": false, "labelOverlap": false, "title": "λ (nm)", "titleFontSize": 78, "titleX": 1238.5, "titleY": 177, "titleBaseline": "alphabetic", "titleAlign": "center", "titleAngle": 0}},
  "y": {"field": "f", "type": "quantitative", "scale": {"domain": [0, 8e14], "nice": false, "zero": false},
   "axis": {"orient": "left", "values": [0, 2e14, 4e14, 6e14, 8e14], "labelExpr": "datum.value == 0 ? '0' : format(datum.value / 1e14, 'd') + 'x10¹⁴'", "ticks": false, "domain": true, "labelFontSize": 80, "labelLimit": 600, "labelPadding": 21, "labelBaseline": "middle", "labelFlush": false, "labelOverlap": false, "labelOffset": {"condition": [{"test": "datum.value == 0", "value": -28}, {"test": "datum.value == 8e14", "value": 19}], "value": 0}, "title": "Solar Irradiance (photons cm⁻² nm⁻¹ s⁻¹)", "titleFontSize": 78, "titleAngle": -90, "titleX": -310, "titleY": 913.5, "titleBaseline": "alphabetic", "titleAlign": "center"}},
  "color": {"field": "c", "type": "nominal", "scale": {"domain": ["1","2","3","4","5","6","7","8"], "range": ["#000000","#A020F0","#0000FF","#1E90FF","#00FF00","#FFFF00","#FFA500","#FF0000"]}, "legend": null}
 }},
{"data": {"values": []},
 "mark": {"type": "point", "opacity": 0},
 "encoding": {
  "x": {"field": "w", "type": "quantitative", "scale": {"domain": [0, 2500], "nice": false, "zero": false},
   "axis": {"orient": "bottom", "values": [0, 500, 1000, 1500, 2000, 2500], "labels": false, "domain": false, "ticks": true, "tickSize": -37, "title": null}},
  "y": {"field": "f", "type": "quantitative", "scale": {"domain": [0, 8e14], "nice": false, "zero": false},
   "axis": {"orient": "left", "values": [0, 2e14, 4e14, 6e14, 8e14], "labels": false, "domain": false, "ticks": true, "tickSize": -50, "title": null}}
 }},
{"data": {"values": []},
 "mark": {"type": "point", "opacity": 0},
 "encoding": {
  "x": {"field": "w", "type": "quantitative", "scale": {"domain": [0, 2500], "nice": false, "zero": false},
   "axis": {"orient": "bottom", "values": [100,200,300,400,600,700,800,900,1100,1200,1300,1400,1600,1700,1800,1900,2100,2200,2300,2400], "labels": false, "domain": false, "ticks": true, "tickSize": -18, "title": null}},
  "y": {"field": "f", "type": "quantitative", "scale": {"domain": [0, 8e14], "nice": false, "zero": false},
   "axis": {"orient": "left", "values": [0.5e14,1e14,1.5e14,2.5e14,3e14,3.5e14,4.5e14,5e14,5.5e14,6.5e14,7e14,7.5e14], "labels": false, "domain": false, "ticks": true, "tickSize": -25, "title": null}}
 }},
{"data": {"values": []},
 "mark": {"type": "point", "opacity": 0},
 "encoding": {
  "x": {"field": "w", "type": "quantitative", "scale": {"domain": [0, 2500], "nice": false, "zero": false},
   "axis": {"orient": "top", "values": [0, 500, 1000, 1500, 2000, 2500], "labels": false, "domain": true, "ticks": true, "tickSize": -37, "title": null}},
  "y": {"field": "f", "type": "quantitative", "scale": {"domain": [0, 8e14], "nice": false, "zero": false},
   "axis": {"orient": "right", "values": [0, 2e14, 4e14, 6e14, 8e14], "labels": false, "domain": true, "ticks": true, "tickSize": -50, "title": null}}
 }},
{"data": {"values": []},
 "mark": {"type": "point", "opacity": 0},
 "encoding": {
  "x": {"field": "w", "type": "quantitative", "scale": {"domain": [0, 2500], "nice": false, "zero": false},
   "axis": {"orient": "top", "values": [100,200,300,400,600,700,800,900,1100,1200,1300,1400,1600,1700,1800,1900,2100,2200,2300,2400], "labels": false, "domain": false, "ticks": true, "tickSize": -18, "title": null}},
  "y": {"field": "f", "type": "quantitative", "scale": {"domain": [0, 8e14], "nice": false, "zero": false},
   "axis": {"orient": "right", "values": [0.5e14,1e14,1.5e14,2.5e14,3e14,3.5e14,4.5e14,5e14,5.5e14,6.5e14,7e14,7.5e14], "labels": false, "domain": false, "ticks": true, "tickSize": -25, "title": null}}
 }}
]
}
